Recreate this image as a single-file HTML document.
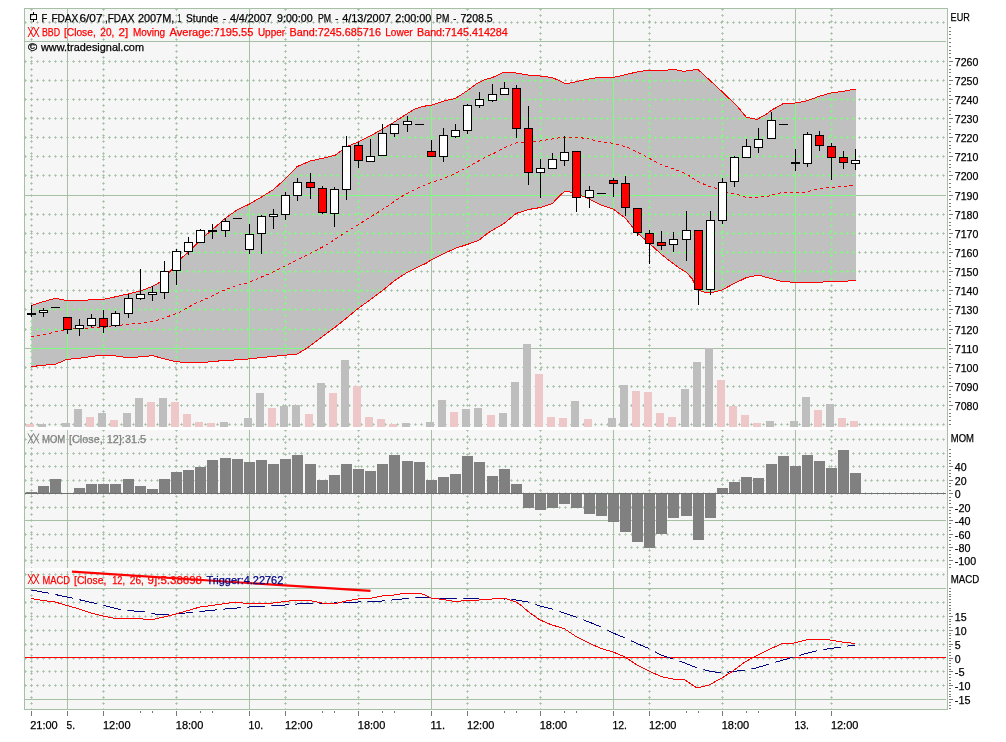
<!DOCTYPE html>
<html><head><meta charset="utf-8"><title>FDAX chart</title>
<style>html,body{margin:0;padding:0;background:#fff}svg{display:block}text{font-family:"Liberation Sans",sans-serif;font-size:11px}</style>
</head><body>
<svg width="1006" height="742" viewBox="0 0 1006 742">
<defs>
<clipPath id="bandclip"><polygon points="31.4,305.4 40.0,302.6 55.0,298.4 61.0,299.3 66.8,300.6 83.5,300.4 91.0,299.8 103.6,299.3 113.6,297.2 127.0,294.2 140.4,290.9 152.0,286.7 158.7,283.0 164.0,278.0 167.0,274.0 170.0,271.5 176.0,265.0 182.0,257.5 188.0,252.5 200.0,240.3 212.0,230.0 225.0,218.5 237.0,210.0 249.0,204.3 261.0,197.3 273.0,189.8 285.0,179.3 297.0,166.7 310.0,161.0 322.0,158.4 330.0,156.6 335.0,155.3 341.7,150.3 348.4,146.1 358.4,141.9 370.1,136.1 381.8,129.4 391.9,123.5 403.6,116.0 413.6,109.6 422.0,106.5 432.0,105.1 443.7,101.0 455.4,98.4 467.1,90.9 477.1,83.4 483.8,80.0 492.2,77.6 498.0,75.0 503.0,72.5 510.0,72.0 516.0,73.0 528.0,75.0 540.0,76.0 552.0,77.5 558.0,80.0 564.0,83.0 570.0,83.0 576.0,81.7 589.0,79.0 601.0,77.1 615.0,77.1 626.7,74.3 640.1,71.3 650.2,70.1 666.9,70.1 673.6,69.3 683.6,71.3 690.3,70.4 697.8,69.3 708.7,79.3 722.0,91.6 728.0,97.3 734.0,103.2 737.1,106.0 746.3,117.2 752.0,118.6 757.1,119.4 764.0,115.4 767.2,113.6 771.0,110.5 783.0,103.7 795.0,103.0 807.0,100.9 819.0,96.4 831.0,93.0 843.0,91.3 856.0,89.0 856.0,280.2 849.5,280.4 848.5,281.0 829.0,281.8 814.0,282.3 804.0,283.0 795.3,282.3 781.5,281.5 766.5,277.3 758.0,275.0 746.0,277.8 734.0,283.6 722.0,290.0 716.0,291.6 710.0,293.0 704.0,292.0 698.0,290.0 692.0,278.6 686.0,272.0 680.0,268.5 673.0,263.5 661.0,254.0 649.5,243.5 637.0,232.6 630.0,224.0 625.0,217.7 613.0,209.0 601.0,205.0 589.0,198.8 576.0,193.4 570.0,192.0 564.0,191.8 558.0,197.6 552.0,203.8 540.0,207.6 528.0,209.6 516.0,213.5 504.0,223.5 498.0,227.0 492.0,230.5 487.1,233.6 478.8,240.3 467.1,244.5 455.4,248.3 443.7,253.7 431.0,260.0 425.3,263.7 419.0,266.5 407.0,272.5 394.0,281.0 382.0,291.0 370.0,300.0 358.0,308.5 348.0,316.9 335.5,326.9 322.1,336.9 308.7,347.0 302.0,351.1 297.0,354.0 280.3,355.7 258.6,357.8 243.5,359.5 221.8,360.7 205.0,362.3 185.0,362.5 175.5,361.6 158.7,357.3 152.0,355.6 142.0,356.9 125.3,357.4 118.6,356.1 103.6,355.6 96.9,355.8 78.5,358.3 66.8,359.4 56.0,364.0 40.0,365.6 31.4,366.6"/></clipPath>
<clipPath id="dashclip"><rect x="31.3" y="571" width="17.6" height="138"/><rect x="55.3" y="571" width="17.6" height="138"/><rect x="79.3" y="571" width="17.6" height="138"/><rect x="103.3" y="571" width="17.6" height="138"/><rect x="127.3" y="571" width="17.6" height="138"/><rect x="151.3" y="571" width="17.6" height="138"/><rect x="175.3" y="571" width="17.6" height="138"/><rect x="199.3" y="571" width="17.6" height="138"/><rect x="223.3" y="571" width="17.6" height="138"/><rect x="247.3" y="571" width="17.6" height="138"/><rect x="271.3" y="571" width="17.6" height="138"/><rect x="295.3" y="571" width="17.6" height="138"/><rect x="319.3" y="571" width="17.6" height="138"/><rect x="343.3" y="571" width="17.6" height="138"/><rect x="367.3" y="571" width="17.6" height="138"/><rect x="391.3" y="571" width="17.6" height="138"/><rect x="415.3" y="571" width="17.6" height="138"/><rect x="439.3" y="571" width="17.6" height="138"/><rect x="463.3" y="571" width="17.6" height="138"/><rect x="487.3" y="571" width="17.6" height="138"/><rect x="511.3" y="571" width="17.6" height="138"/><rect x="535.3" y="571" width="17.6" height="138"/><rect x="559.3" y="571" width="17.6" height="138"/><rect x="583.3" y="571" width="17.6" height="138"/><rect x="607.3" y="571" width="17.6" height="138"/><rect x="631.3" y="571" width="17.6" height="138"/><rect x="655.3" y="571" width="17.6" height="138"/><rect x="679.3" y="571" width="17.6" height="138"/><rect x="703.3" y="571" width="17.6" height="138"/><rect x="727.3" y="571" width="17.6" height="138"/><rect x="751.3" y="571" width="17.6" height="138"/><rect x="775.3" y="571" width="17.6" height="138"/><rect x="799.3" y="571" width="17.6" height="138"/><rect x="823.3" y="571" width="17.6" height="138"/><rect x="847.3" y="571" width="17.6" height="138"/><rect x="871.3" y="571" width="17.6" height="138"/></clipPath>
<clipPath id="plotclip"><rect x="25" y="9" width="922" height="700"/></clipPath>
</defs>
<rect x="24" y="8" width="924" height="701" fill="#f6f6f6"/>
<g shape-rendering="crispEdges" clip-path="url(#plotclip)">
<line x1="25" y1="41.5" x2="946" y2="41.5" stroke="#a6c0a6"/>
<line x1="25" y1="195.5" x2="946" y2="195.5" stroke="#a6c0a6"/>
<line x1="25" y1="348.5" x2="946" y2="348.5" stroke="#a6c0a6"/>
<line x1="25" y1="520.5" x2="946" y2="520.5" stroke="#a6c0a6"/>
<line x1="25" y1="588.5" x2="946" y2="588.5" stroke="#a6c0a6"/>
<line x1="25" y1="699.5" x2="946" y2="699.5" stroke="#a6c0a6"/>
<line x1="67.5" y1="9" x2="67.5" y2="427" stroke="#a6c0a6"/>
<line x1="67.5" y1="430" x2="67.5" y2="568" stroke="#a6c0a6"/>
<line x1="67.5" y1="571" x2="67.5" y2="709" stroke="#a6c0a6"/>
<line x1="249.5" y1="9" x2="249.5" y2="427" stroke="#a6c0a6"/>
<line x1="249.5" y1="430" x2="249.5" y2="568" stroke="#a6c0a6"/>
<line x1="249.5" y1="571" x2="249.5" y2="709" stroke="#a6c0a6"/>
<line x1="431.5" y1="9" x2="431.5" y2="427" stroke="#a6c0a6"/>
<line x1="431.5" y1="430" x2="431.5" y2="568" stroke="#a6c0a6"/>
<line x1="431.5" y1="571" x2="431.5" y2="709" stroke="#a6c0a6"/>
<line x1="613.5" y1="9" x2="613.5" y2="427" stroke="#a6c0a6"/>
<line x1="613.5" y1="430" x2="613.5" y2="568" stroke="#a6c0a6"/>
<line x1="613.5" y1="571" x2="613.5" y2="709" stroke="#a6c0a6"/>
<line x1="795.5" y1="9" x2="795.5" y2="427" stroke="#a6c0a6"/>
<line x1="795.5" y1="430" x2="795.5" y2="568" stroke="#a6c0a6"/>
<line x1="795.5" y1="571" x2="795.5" y2="709" stroke="#a6c0a6"/>
<line x1="25" y1="22.5" x2="946" y2="22.5" stroke="#a6c0a6" stroke-dasharray="1 5"/>
<line x1="24" y1="22.5" x2="946" y2="22.5" stroke="#a6c0a6" stroke-dasharray="3 3" opacity="0.72"/>
<line x1="25" y1="21.5" x2="946" y2="21.5" stroke="#a6c0a6" stroke-dasharray="1 5" opacity="0.72"/>
<line x1="25" y1="23.5" x2="946" y2="23.5" stroke="#a6c0a6" stroke-dasharray="1 5" opacity="0.72"/>
<line x1="25" y1="61.5" x2="946" y2="61.5" stroke="#a6c0a6" stroke-dasharray="1 5"/>
<line x1="24" y1="61.5" x2="946" y2="61.5" stroke="#a6c0a6" stroke-dasharray="3 3" opacity="0.72"/>
<line x1="25" y1="60.5" x2="946" y2="60.5" stroke="#a6c0a6" stroke-dasharray="1 5" opacity="0.72"/>
<line x1="25" y1="62.5" x2="946" y2="62.5" stroke="#a6c0a6" stroke-dasharray="1 5" opacity="0.72"/>
<line x1="25" y1="80.5" x2="946" y2="80.5" stroke="#a6c0a6" stroke-dasharray="1 5"/>
<line x1="24" y1="80.5" x2="946" y2="80.5" stroke="#a6c0a6" stroke-dasharray="3 3" opacity="0.72"/>
<line x1="25" y1="79.5" x2="946" y2="79.5" stroke="#a6c0a6" stroke-dasharray="1 5" opacity="0.72"/>
<line x1="25" y1="81.5" x2="946" y2="81.5" stroke="#a6c0a6" stroke-dasharray="1 5" opacity="0.72"/>
<line x1="25" y1="99.5" x2="946" y2="99.5" stroke="#a6c0a6" stroke-dasharray="1 5"/>
<line x1="24" y1="99.5" x2="946" y2="99.5" stroke="#a6c0a6" stroke-dasharray="3 3" opacity="0.72"/>
<line x1="25" y1="98.5" x2="946" y2="98.5" stroke="#a6c0a6" stroke-dasharray="1 5" opacity="0.72"/>
<line x1="25" y1="100.5" x2="946" y2="100.5" stroke="#a6c0a6" stroke-dasharray="1 5" opacity="0.72"/>
<line x1="25" y1="118.5" x2="946" y2="118.5" stroke="#a6c0a6" stroke-dasharray="1 5"/>
<line x1="24" y1="118.5" x2="946" y2="118.5" stroke="#a6c0a6" stroke-dasharray="3 3" opacity="0.72"/>
<line x1="25" y1="117.5" x2="946" y2="117.5" stroke="#a6c0a6" stroke-dasharray="1 5" opacity="0.72"/>
<line x1="25" y1="119.5" x2="946" y2="119.5" stroke="#a6c0a6" stroke-dasharray="1 5" opacity="0.72"/>
<line x1="25" y1="137.5" x2="946" y2="137.5" stroke="#a6c0a6" stroke-dasharray="1 5"/>
<line x1="24" y1="137.5" x2="946" y2="137.5" stroke="#a6c0a6" stroke-dasharray="3 3" opacity="0.72"/>
<line x1="25" y1="136.5" x2="946" y2="136.5" stroke="#a6c0a6" stroke-dasharray="1 5" opacity="0.72"/>
<line x1="25" y1="138.5" x2="946" y2="138.5" stroke="#a6c0a6" stroke-dasharray="1 5" opacity="0.72"/>
<line x1="25" y1="156.5" x2="946" y2="156.5" stroke="#a6c0a6" stroke-dasharray="1 5"/>
<line x1="24" y1="156.5" x2="946" y2="156.5" stroke="#a6c0a6" stroke-dasharray="3 3" opacity="0.72"/>
<line x1="25" y1="155.5" x2="946" y2="155.5" stroke="#a6c0a6" stroke-dasharray="1 5" opacity="0.72"/>
<line x1="25" y1="157.5" x2="946" y2="157.5" stroke="#a6c0a6" stroke-dasharray="1 5" opacity="0.72"/>
<line x1="25" y1="175.5" x2="946" y2="175.5" stroke="#a6c0a6" stroke-dasharray="1 5"/>
<line x1="24" y1="175.5" x2="946" y2="175.5" stroke="#a6c0a6" stroke-dasharray="3 3" opacity="0.72"/>
<line x1="25" y1="174.5" x2="946" y2="174.5" stroke="#a6c0a6" stroke-dasharray="1 5" opacity="0.72"/>
<line x1="25" y1="176.5" x2="946" y2="176.5" stroke="#a6c0a6" stroke-dasharray="1 5" opacity="0.72"/>
<line x1="25" y1="214.5" x2="946" y2="214.5" stroke="#a6c0a6" stroke-dasharray="1 5"/>
<line x1="24" y1="214.5" x2="946" y2="214.5" stroke="#a6c0a6" stroke-dasharray="3 3" opacity="0.72"/>
<line x1="25" y1="213.5" x2="946" y2="213.5" stroke="#a6c0a6" stroke-dasharray="1 5" opacity="0.72"/>
<line x1="25" y1="215.5" x2="946" y2="215.5" stroke="#a6c0a6" stroke-dasharray="1 5" opacity="0.72"/>
<line x1="25" y1="233.5" x2="946" y2="233.5" stroke="#a6c0a6" stroke-dasharray="1 5"/>
<line x1="24" y1="233.5" x2="946" y2="233.5" stroke="#a6c0a6" stroke-dasharray="3 3" opacity="0.72"/>
<line x1="25" y1="232.5" x2="946" y2="232.5" stroke="#a6c0a6" stroke-dasharray="1 5" opacity="0.72"/>
<line x1="25" y1="234.5" x2="946" y2="234.5" stroke="#a6c0a6" stroke-dasharray="1 5" opacity="0.72"/>
<line x1="25" y1="252.5" x2="946" y2="252.5" stroke="#a6c0a6" stroke-dasharray="1 5"/>
<line x1="24" y1="252.5" x2="946" y2="252.5" stroke="#a6c0a6" stroke-dasharray="3 3" opacity="0.72"/>
<line x1="25" y1="251.5" x2="946" y2="251.5" stroke="#a6c0a6" stroke-dasharray="1 5" opacity="0.72"/>
<line x1="25" y1="253.5" x2="946" y2="253.5" stroke="#a6c0a6" stroke-dasharray="1 5" opacity="0.72"/>
<line x1="25" y1="271.5" x2="946" y2="271.5" stroke="#a6c0a6" stroke-dasharray="1 5"/>
<line x1="24" y1="271.5" x2="946" y2="271.5" stroke="#a6c0a6" stroke-dasharray="3 3" opacity="0.72"/>
<line x1="25" y1="270.5" x2="946" y2="270.5" stroke="#a6c0a6" stroke-dasharray="1 5" opacity="0.72"/>
<line x1="25" y1="272.5" x2="946" y2="272.5" stroke="#a6c0a6" stroke-dasharray="1 5" opacity="0.72"/>
<line x1="25" y1="290.5" x2="946" y2="290.5" stroke="#a6c0a6" stroke-dasharray="1 5"/>
<line x1="24" y1="290.5" x2="946" y2="290.5" stroke="#a6c0a6" stroke-dasharray="3 3" opacity="0.72"/>
<line x1="25" y1="289.5" x2="946" y2="289.5" stroke="#a6c0a6" stroke-dasharray="1 5" opacity="0.72"/>
<line x1="25" y1="291.5" x2="946" y2="291.5" stroke="#a6c0a6" stroke-dasharray="1 5" opacity="0.72"/>
<line x1="25" y1="309.5" x2="946" y2="309.5" stroke="#a6c0a6" stroke-dasharray="1 5"/>
<line x1="24" y1="309.5" x2="946" y2="309.5" stroke="#a6c0a6" stroke-dasharray="3 3" opacity="0.72"/>
<line x1="25" y1="308.5" x2="946" y2="308.5" stroke="#a6c0a6" stroke-dasharray="1 5" opacity="0.72"/>
<line x1="25" y1="310.5" x2="946" y2="310.5" stroke="#a6c0a6" stroke-dasharray="1 5" opacity="0.72"/>
<line x1="25" y1="329.5" x2="946" y2="329.5" stroke="#a6c0a6" stroke-dasharray="1 5"/>
<line x1="24" y1="329.5" x2="946" y2="329.5" stroke="#a6c0a6" stroke-dasharray="3 3" opacity="0.72"/>
<line x1="25" y1="328.5" x2="946" y2="328.5" stroke="#a6c0a6" stroke-dasharray="1 5" opacity="0.72"/>
<line x1="25" y1="330.5" x2="946" y2="330.5" stroke="#a6c0a6" stroke-dasharray="1 5" opacity="0.72"/>
<line x1="25" y1="367.5" x2="946" y2="367.5" stroke="#a6c0a6" stroke-dasharray="1 5"/>
<line x1="24" y1="367.5" x2="946" y2="367.5" stroke="#a6c0a6" stroke-dasharray="3 3" opacity="0.72"/>
<line x1="25" y1="366.5" x2="946" y2="366.5" stroke="#a6c0a6" stroke-dasharray="1 5" opacity="0.72"/>
<line x1="25" y1="368.5" x2="946" y2="368.5" stroke="#a6c0a6" stroke-dasharray="1 5" opacity="0.72"/>
<line x1="25" y1="386.5" x2="946" y2="386.5" stroke="#a6c0a6" stroke-dasharray="1 5"/>
<line x1="24" y1="386.5" x2="946" y2="386.5" stroke="#a6c0a6" stroke-dasharray="3 3" opacity="0.72"/>
<line x1="25" y1="385.5" x2="946" y2="385.5" stroke="#a6c0a6" stroke-dasharray="1 5" opacity="0.72"/>
<line x1="25" y1="387.5" x2="946" y2="387.5" stroke="#a6c0a6" stroke-dasharray="1 5" opacity="0.72"/>
<line x1="25" y1="405.5" x2="946" y2="405.5" stroke="#a6c0a6" stroke-dasharray="1 5"/>
<line x1="24" y1="405.5" x2="946" y2="405.5" stroke="#a6c0a6" stroke-dasharray="3 3" opacity="0.72"/>
<line x1="25" y1="404.5" x2="946" y2="404.5" stroke="#a6c0a6" stroke-dasharray="1 5" opacity="0.72"/>
<line x1="25" y1="406.5" x2="946" y2="406.5" stroke="#a6c0a6" stroke-dasharray="1 5" opacity="0.72"/>
<line x1="25" y1="424.5" x2="946" y2="424.5" stroke="#a6c0a6" stroke-dasharray="1 5"/>
<line x1="24" y1="424.5" x2="946" y2="424.5" stroke="#a6c0a6" stroke-dasharray="3 3" opacity="0.72"/>
<line x1="25" y1="423.5" x2="946" y2="423.5" stroke="#a6c0a6" stroke-dasharray="1 5" opacity="0.72"/>
<line x1="25" y1="425.5" x2="946" y2="425.5" stroke="#a6c0a6" stroke-dasharray="1 5" opacity="0.72"/>
<line x1="25" y1="439.5" x2="946" y2="439.5" stroke="#a6c0a6" stroke-dasharray="1 5"/>
<line x1="24" y1="439.5" x2="946" y2="439.5" stroke="#a6c0a6" stroke-dasharray="3 3" opacity="0.72"/>
<line x1="25" y1="438.5" x2="946" y2="438.5" stroke="#a6c0a6" stroke-dasharray="1 5" opacity="0.72"/>
<line x1="25" y1="440.5" x2="946" y2="440.5" stroke="#a6c0a6" stroke-dasharray="1 5" opacity="0.72"/>
<line x1="25" y1="453.5" x2="946" y2="453.5" stroke="#a6c0a6" stroke-dasharray="1 5"/>
<line x1="24" y1="453.5" x2="946" y2="453.5" stroke="#a6c0a6" stroke-dasharray="3 3" opacity="0.72"/>
<line x1="25" y1="452.5" x2="946" y2="452.5" stroke="#a6c0a6" stroke-dasharray="1 5" opacity="0.72"/>
<line x1="25" y1="454.5" x2="946" y2="454.5" stroke="#a6c0a6" stroke-dasharray="1 5" opacity="0.72"/>
<line x1="25" y1="466.5" x2="946" y2="466.5" stroke="#a6c0a6" stroke-dasharray="1 5"/>
<line x1="24" y1="466.5" x2="946" y2="466.5" stroke="#a6c0a6" stroke-dasharray="3 3" opacity="0.72"/>
<line x1="25" y1="465.5" x2="946" y2="465.5" stroke="#a6c0a6" stroke-dasharray="1 5" opacity="0.72"/>
<line x1="25" y1="467.5" x2="946" y2="467.5" stroke="#a6c0a6" stroke-dasharray="1 5" opacity="0.72"/>
<line x1="25" y1="480.5" x2="946" y2="480.5" stroke="#a6c0a6" stroke-dasharray="1 5"/>
<line x1="24" y1="480.5" x2="946" y2="480.5" stroke="#a6c0a6" stroke-dasharray="3 3" opacity="0.72"/>
<line x1="25" y1="479.5" x2="946" y2="479.5" stroke="#a6c0a6" stroke-dasharray="1 5" opacity="0.72"/>
<line x1="25" y1="481.5" x2="946" y2="481.5" stroke="#a6c0a6" stroke-dasharray="1 5" opacity="0.72"/>
<line x1="25" y1="493.5" x2="946" y2="493.5" stroke="#a6c0a6" stroke-dasharray="1 5"/>
<line x1="24" y1="493.5" x2="946" y2="493.5" stroke="#a6c0a6" stroke-dasharray="3 3" opacity="0.72"/>
<line x1="25" y1="492.5" x2="946" y2="492.5" stroke="#a6c0a6" stroke-dasharray="1 5" opacity="0.72"/>
<line x1="25" y1="494.5" x2="946" y2="494.5" stroke="#a6c0a6" stroke-dasharray="1 5" opacity="0.72"/>
<line x1="25" y1="507.5" x2="946" y2="507.5" stroke="#a6c0a6" stroke-dasharray="1 5"/>
<line x1="24" y1="507.5" x2="946" y2="507.5" stroke="#a6c0a6" stroke-dasharray="3 3" opacity="0.72"/>
<line x1="25" y1="506.5" x2="946" y2="506.5" stroke="#a6c0a6" stroke-dasharray="1 5" opacity="0.72"/>
<line x1="25" y1="508.5" x2="946" y2="508.5" stroke="#a6c0a6" stroke-dasharray="1 5" opacity="0.72"/>
<line x1="25" y1="534.5" x2="946" y2="534.5" stroke="#a6c0a6" stroke-dasharray="1 5"/>
<line x1="24" y1="534.5" x2="946" y2="534.5" stroke="#a6c0a6" stroke-dasharray="3 3" opacity="0.72"/>
<line x1="25" y1="533.5" x2="946" y2="533.5" stroke="#a6c0a6" stroke-dasharray="1 5" opacity="0.72"/>
<line x1="25" y1="535.5" x2="946" y2="535.5" stroke="#a6c0a6" stroke-dasharray="1 5" opacity="0.72"/>
<line x1="25" y1="547.5" x2="946" y2="547.5" stroke="#a6c0a6" stroke-dasharray="1 5"/>
<line x1="24" y1="547.5" x2="946" y2="547.5" stroke="#a6c0a6" stroke-dasharray="3 3" opacity="0.72"/>
<line x1="25" y1="546.5" x2="946" y2="546.5" stroke="#a6c0a6" stroke-dasharray="1 5" opacity="0.72"/>
<line x1="25" y1="548.5" x2="946" y2="548.5" stroke="#a6c0a6" stroke-dasharray="1 5" opacity="0.72"/>
<line x1="25" y1="560.5" x2="946" y2="560.5" stroke="#a6c0a6" stroke-dasharray="1 5"/>
<line x1="24" y1="560.5" x2="946" y2="560.5" stroke="#a6c0a6" stroke-dasharray="3 3" opacity="0.72"/>
<line x1="25" y1="559.5" x2="946" y2="559.5" stroke="#a6c0a6" stroke-dasharray="1 5" opacity="0.72"/>
<line x1="25" y1="561.5" x2="946" y2="561.5" stroke="#a6c0a6" stroke-dasharray="1 5" opacity="0.72"/>
<line x1="25" y1="574.5" x2="946" y2="574.5" stroke="#a6c0a6" stroke-dasharray="1 5"/>
<line x1="24" y1="574.5" x2="946" y2="574.5" stroke="#a6c0a6" stroke-dasharray="3 3" opacity="0.72"/>
<line x1="25" y1="573.5" x2="946" y2="573.5" stroke="#a6c0a6" stroke-dasharray="1 5" opacity="0.72"/>
<line x1="25" y1="575.5" x2="946" y2="575.5" stroke="#a6c0a6" stroke-dasharray="1 5" opacity="0.72"/>
<line x1="25" y1="602.5" x2="946" y2="602.5" stroke="#a6c0a6" stroke-dasharray="1 5"/>
<line x1="24" y1="602.5" x2="946" y2="602.5" stroke="#a6c0a6" stroke-dasharray="3 3" opacity="0.72"/>
<line x1="25" y1="601.5" x2="946" y2="601.5" stroke="#a6c0a6" stroke-dasharray="1 5" opacity="0.72"/>
<line x1="25" y1="603.5" x2="946" y2="603.5" stroke="#a6c0a6" stroke-dasharray="1 5" opacity="0.72"/>
<line x1="25" y1="616.5" x2="946" y2="616.5" stroke="#a6c0a6" stroke-dasharray="1 5"/>
<line x1="24" y1="616.5" x2="946" y2="616.5" stroke="#a6c0a6" stroke-dasharray="3 3" opacity="0.72"/>
<line x1="25" y1="615.5" x2="946" y2="615.5" stroke="#a6c0a6" stroke-dasharray="1 5" opacity="0.72"/>
<line x1="25" y1="617.5" x2="946" y2="617.5" stroke="#a6c0a6" stroke-dasharray="1 5" opacity="0.72"/>
<line x1="25" y1="630.5" x2="946" y2="630.5" stroke="#a6c0a6" stroke-dasharray="1 5"/>
<line x1="24" y1="630.5" x2="946" y2="630.5" stroke="#a6c0a6" stroke-dasharray="3 3" opacity="0.72"/>
<line x1="25" y1="629.5" x2="946" y2="629.5" stroke="#a6c0a6" stroke-dasharray="1 5" opacity="0.72"/>
<line x1="25" y1="631.5" x2="946" y2="631.5" stroke="#a6c0a6" stroke-dasharray="1 5" opacity="0.72"/>
<line x1="25" y1="644.5" x2="946" y2="644.5" stroke="#a6c0a6" stroke-dasharray="1 5"/>
<line x1="24" y1="644.5" x2="946" y2="644.5" stroke="#a6c0a6" stroke-dasharray="3 3" opacity="0.72"/>
<line x1="25" y1="643.5" x2="946" y2="643.5" stroke="#a6c0a6" stroke-dasharray="1 5" opacity="0.72"/>
<line x1="25" y1="645.5" x2="946" y2="645.5" stroke="#a6c0a6" stroke-dasharray="1 5" opacity="0.72"/>
<line x1="25" y1="658.5" x2="946" y2="658.5" stroke="#a6c0a6" stroke-dasharray="1 5"/>
<line x1="24" y1="658.5" x2="946" y2="658.5" stroke="#a6c0a6" stroke-dasharray="3 3" opacity="0.72"/>
<line x1="25" y1="657.5" x2="946" y2="657.5" stroke="#a6c0a6" stroke-dasharray="1 5" opacity="0.72"/>
<line x1="25" y1="659.5" x2="946" y2="659.5" stroke="#a6c0a6" stroke-dasharray="1 5" opacity="0.72"/>
<line x1="25" y1="671.5" x2="946" y2="671.5" stroke="#a6c0a6" stroke-dasharray="1 5"/>
<line x1="24" y1="671.5" x2="946" y2="671.5" stroke="#a6c0a6" stroke-dasharray="3 3" opacity="0.72"/>
<line x1="25" y1="670.5" x2="946" y2="670.5" stroke="#a6c0a6" stroke-dasharray="1 5" opacity="0.72"/>
<line x1="25" y1="672.5" x2="946" y2="672.5" stroke="#a6c0a6" stroke-dasharray="1 5" opacity="0.72"/>
<line x1="25" y1="685.5" x2="946" y2="685.5" stroke="#a6c0a6" stroke-dasharray="1 5"/>
<line x1="24" y1="685.5" x2="946" y2="685.5" stroke="#a6c0a6" stroke-dasharray="3 3" opacity="0.72"/>
<line x1="25" y1="684.5" x2="946" y2="684.5" stroke="#a6c0a6" stroke-dasharray="1 5" opacity="0.72"/>
<line x1="25" y1="686.5" x2="946" y2="686.5" stroke="#a6c0a6" stroke-dasharray="1 5" opacity="0.72"/>
<line x1="31.5" y1="9" x2="31.5" y2="427" stroke="#a6c0a6" stroke-dasharray="1 5"/>
<line x1="31.5" y1="8" x2="31.5" y2="427" stroke="#a6c0a6" stroke-dasharray="3 3" opacity="0.72"/>
<line x1="30.5" y1="9" x2="30.5" y2="427" stroke="#a6c0a6" stroke-dasharray="1 5" opacity="0.72"/>
<line x1="32.5" y1="9" x2="32.5" y2="427" stroke="#a6c0a6" stroke-dasharray="1 5" opacity="0.72"/>
<line x1="31.5" y1="430" x2="31.5" y2="568" stroke="#a6c0a6" stroke-dasharray="1 5"/>
<line x1="31.5" y1="429" x2="31.5" y2="568" stroke="#a6c0a6" stroke-dasharray="3 3" opacity="0.72"/>
<line x1="30.5" y1="430" x2="30.5" y2="568" stroke="#a6c0a6" stroke-dasharray="1 5" opacity="0.72"/>
<line x1="32.5" y1="430" x2="32.5" y2="568" stroke="#a6c0a6" stroke-dasharray="1 5" opacity="0.72"/>
<line x1="31.5" y1="571" x2="31.5" y2="709" stroke="#a6c0a6" stroke-dasharray="1 5"/>
<line x1="31.5" y1="570" x2="31.5" y2="709" stroke="#a6c0a6" stroke-dasharray="3 3" opacity="0.72"/>
<line x1="30.5" y1="571" x2="30.5" y2="709" stroke="#a6c0a6" stroke-dasharray="1 5" opacity="0.72"/>
<line x1="32.5" y1="571" x2="32.5" y2="709" stroke="#a6c0a6" stroke-dasharray="1 5" opacity="0.72"/>
<line x1="103.5" y1="9" x2="103.5" y2="427" stroke="#a6c0a6" stroke-dasharray="1 5"/>
<line x1="103.5" y1="8" x2="103.5" y2="427" stroke="#a6c0a6" stroke-dasharray="3 3" opacity="0.72"/>
<line x1="102.5" y1="9" x2="102.5" y2="427" stroke="#a6c0a6" stroke-dasharray="1 5" opacity="0.72"/>
<line x1="104.5" y1="9" x2="104.5" y2="427" stroke="#a6c0a6" stroke-dasharray="1 5" opacity="0.72"/>
<line x1="103.5" y1="430" x2="103.5" y2="568" stroke="#a6c0a6" stroke-dasharray="1 5"/>
<line x1="103.5" y1="429" x2="103.5" y2="568" stroke="#a6c0a6" stroke-dasharray="3 3" opacity="0.72"/>
<line x1="102.5" y1="430" x2="102.5" y2="568" stroke="#a6c0a6" stroke-dasharray="1 5" opacity="0.72"/>
<line x1="104.5" y1="430" x2="104.5" y2="568" stroke="#a6c0a6" stroke-dasharray="1 5" opacity="0.72"/>
<line x1="103.5" y1="571" x2="103.5" y2="709" stroke="#a6c0a6" stroke-dasharray="1 5"/>
<line x1="103.5" y1="570" x2="103.5" y2="709" stroke="#a6c0a6" stroke-dasharray="3 3" opacity="0.72"/>
<line x1="102.5" y1="571" x2="102.5" y2="709" stroke="#a6c0a6" stroke-dasharray="1 5" opacity="0.72"/>
<line x1="104.5" y1="571" x2="104.5" y2="709" stroke="#a6c0a6" stroke-dasharray="1 5" opacity="0.72"/>
<line x1="176.5" y1="9" x2="176.5" y2="427" stroke="#a6c0a6" stroke-dasharray="1 5"/>
<line x1="176.5" y1="8" x2="176.5" y2="427" stroke="#a6c0a6" stroke-dasharray="3 3" opacity="0.72"/>
<line x1="175.5" y1="9" x2="175.5" y2="427" stroke="#a6c0a6" stroke-dasharray="1 5" opacity="0.72"/>
<line x1="177.5" y1="9" x2="177.5" y2="427" stroke="#a6c0a6" stroke-dasharray="1 5" opacity="0.72"/>
<line x1="176.5" y1="430" x2="176.5" y2="568" stroke="#a6c0a6" stroke-dasharray="1 5"/>
<line x1="176.5" y1="429" x2="176.5" y2="568" stroke="#a6c0a6" stroke-dasharray="3 3" opacity="0.72"/>
<line x1="175.5" y1="430" x2="175.5" y2="568" stroke="#a6c0a6" stroke-dasharray="1 5" opacity="0.72"/>
<line x1="177.5" y1="430" x2="177.5" y2="568" stroke="#a6c0a6" stroke-dasharray="1 5" opacity="0.72"/>
<line x1="176.5" y1="571" x2="176.5" y2="709" stroke="#a6c0a6" stroke-dasharray="1 5"/>
<line x1="176.5" y1="570" x2="176.5" y2="709" stroke="#a6c0a6" stroke-dasharray="3 3" opacity="0.72"/>
<line x1="175.5" y1="571" x2="175.5" y2="709" stroke="#a6c0a6" stroke-dasharray="1 5" opacity="0.72"/>
<line x1="177.5" y1="571" x2="177.5" y2="709" stroke="#a6c0a6" stroke-dasharray="1 5" opacity="0.72"/>
<line x1="285.5" y1="9" x2="285.5" y2="427" stroke="#a6c0a6" stroke-dasharray="1 5"/>
<line x1="285.5" y1="8" x2="285.5" y2="427" stroke="#a6c0a6" stroke-dasharray="3 3" opacity="0.72"/>
<line x1="284.5" y1="9" x2="284.5" y2="427" stroke="#a6c0a6" stroke-dasharray="1 5" opacity="0.72"/>
<line x1="286.5" y1="9" x2="286.5" y2="427" stroke="#a6c0a6" stroke-dasharray="1 5" opacity="0.72"/>
<line x1="285.5" y1="430" x2="285.5" y2="568" stroke="#a6c0a6" stroke-dasharray="1 5"/>
<line x1="285.5" y1="429" x2="285.5" y2="568" stroke="#a6c0a6" stroke-dasharray="3 3" opacity="0.72"/>
<line x1="284.5" y1="430" x2="284.5" y2="568" stroke="#a6c0a6" stroke-dasharray="1 5" opacity="0.72"/>
<line x1="286.5" y1="430" x2="286.5" y2="568" stroke="#a6c0a6" stroke-dasharray="1 5" opacity="0.72"/>
<line x1="285.5" y1="571" x2="285.5" y2="709" stroke="#a6c0a6" stroke-dasharray="1 5"/>
<line x1="285.5" y1="570" x2="285.5" y2="709" stroke="#a6c0a6" stroke-dasharray="3 3" opacity="0.72"/>
<line x1="284.5" y1="571" x2="284.5" y2="709" stroke="#a6c0a6" stroke-dasharray="1 5" opacity="0.72"/>
<line x1="286.5" y1="571" x2="286.5" y2="709" stroke="#a6c0a6" stroke-dasharray="1 5" opacity="0.72"/>
<line x1="358.5" y1="9" x2="358.5" y2="427" stroke="#a6c0a6" stroke-dasharray="1 5"/>
<line x1="358.5" y1="8" x2="358.5" y2="427" stroke="#a6c0a6" stroke-dasharray="3 3" opacity="0.72"/>
<line x1="357.5" y1="9" x2="357.5" y2="427" stroke="#a6c0a6" stroke-dasharray="1 5" opacity="0.72"/>
<line x1="359.5" y1="9" x2="359.5" y2="427" stroke="#a6c0a6" stroke-dasharray="1 5" opacity="0.72"/>
<line x1="358.5" y1="430" x2="358.5" y2="568" stroke="#a6c0a6" stroke-dasharray="1 5"/>
<line x1="358.5" y1="429" x2="358.5" y2="568" stroke="#a6c0a6" stroke-dasharray="3 3" opacity="0.72"/>
<line x1="357.5" y1="430" x2="357.5" y2="568" stroke="#a6c0a6" stroke-dasharray="1 5" opacity="0.72"/>
<line x1="359.5" y1="430" x2="359.5" y2="568" stroke="#a6c0a6" stroke-dasharray="1 5" opacity="0.72"/>
<line x1="358.5" y1="571" x2="358.5" y2="709" stroke="#a6c0a6" stroke-dasharray="1 5"/>
<line x1="358.5" y1="570" x2="358.5" y2="709" stroke="#a6c0a6" stroke-dasharray="3 3" opacity="0.72"/>
<line x1="357.5" y1="571" x2="357.5" y2="709" stroke="#a6c0a6" stroke-dasharray="1 5" opacity="0.72"/>
<line x1="359.5" y1="571" x2="359.5" y2="709" stroke="#a6c0a6" stroke-dasharray="1 5" opacity="0.72"/>
<line x1="467.5" y1="9" x2="467.5" y2="427" stroke="#a6c0a6" stroke-dasharray="1 5"/>
<line x1="467.5" y1="8" x2="467.5" y2="427" stroke="#a6c0a6" stroke-dasharray="3 3" opacity="0.72"/>
<line x1="466.5" y1="9" x2="466.5" y2="427" stroke="#a6c0a6" stroke-dasharray="1 5" opacity="0.72"/>
<line x1="468.5" y1="9" x2="468.5" y2="427" stroke="#a6c0a6" stroke-dasharray="1 5" opacity="0.72"/>
<line x1="467.5" y1="430" x2="467.5" y2="568" stroke="#a6c0a6" stroke-dasharray="1 5"/>
<line x1="467.5" y1="429" x2="467.5" y2="568" stroke="#a6c0a6" stroke-dasharray="3 3" opacity="0.72"/>
<line x1="466.5" y1="430" x2="466.5" y2="568" stroke="#a6c0a6" stroke-dasharray="1 5" opacity="0.72"/>
<line x1="468.5" y1="430" x2="468.5" y2="568" stroke="#a6c0a6" stroke-dasharray="1 5" opacity="0.72"/>
<line x1="467.5" y1="571" x2="467.5" y2="709" stroke="#a6c0a6" stroke-dasharray="1 5"/>
<line x1="467.5" y1="570" x2="467.5" y2="709" stroke="#a6c0a6" stroke-dasharray="3 3" opacity="0.72"/>
<line x1="466.5" y1="571" x2="466.5" y2="709" stroke="#a6c0a6" stroke-dasharray="1 5" opacity="0.72"/>
<line x1="468.5" y1="571" x2="468.5" y2="709" stroke="#a6c0a6" stroke-dasharray="1 5" opacity="0.72"/>
<line x1="540.5" y1="9" x2="540.5" y2="427" stroke="#a6c0a6" stroke-dasharray="1 5"/>
<line x1="540.5" y1="8" x2="540.5" y2="427" stroke="#a6c0a6" stroke-dasharray="3 3" opacity="0.72"/>
<line x1="539.5" y1="9" x2="539.5" y2="427" stroke="#a6c0a6" stroke-dasharray="1 5" opacity="0.72"/>
<line x1="541.5" y1="9" x2="541.5" y2="427" stroke="#a6c0a6" stroke-dasharray="1 5" opacity="0.72"/>
<line x1="540.5" y1="430" x2="540.5" y2="568" stroke="#a6c0a6" stroke-dasharray="1 5"/>
<line x1="540.5" y1="429" x2="540.5" y2="568" stroke="#a6c0a6" stroke-dasharray="3 3" opacity="0.72"/>
<line x1="539.5" y1="430" x2="539.5" y2="568" stroke="#a6c0a6" stroke-dasharray="1 5" opacity="0.72"/>
<line x1="541.5" y1="430" x2="541.5" y2="568" stroke="#a6c0a6" stroke-dasharray="1 5" opacity="0.72"/>
<line x1="540.5" y1="571" x2="540.5" y2="709" stroke="#a6c0a6" stroke-dasharray="1 5"/>
<line x1="540.5" y1="570" x2="540.5" y2="709" stroke="#a6c0a6" stroke-dasharray="3 3" opacity="0.72"/>
<line x1="539.5" y1="571" x2="539.5" y2="709" stroke="#a6c0a6" stroke-dasharray="1 5" opacity="0.72"/>
<line x1="541.5" y1="571" x2="541.5" y2="709" stroke="#a6c0a6" stroke-dasharray="1 5" opacity="0.72"/>
<line x1="649.5" y1="9" x2="649.5" y2="427" stroke="#a6c0a6" stroke-dasharray="1 5"/>
<line x1="649.5" y1="8" x2="649.5" y2="427" stroke="#a6c0a6" stroke-dasharray="3 3" opacity="0.72"/>
<line x1="648.5" y1="9" x2="648.5" y2="427" stroke="#a6c0a6" stroke-dasharray="1 5" opacity="0.72"/>
<line x1="650.5" y1="9" x2="650.5" y2="427" stroke="#a6c0a6" stroke-dasharray="1 5" opacity="0.72"/>
<line x1="649.5" y1="430" x2="649.5" y2="568" stroke="#a6c0a6" stroke-dasharray="1 5"/>
<line x1="649.5" y1="429" x2="649.5" y2="568" stroke="#a6c0a6" stroke-dasharray="3 3" opacity="0.72"/>
<line x1="648.5" y1="430" x2="648.5" y2="568" stroke="#a6c0a6" stroke-dasharray="1 5" opacity="0.72"/>
<line x1="650.5" y1="430" x2="650.5" y2="568" stroke="#a6c0a6" stroke-dasharray="1 5" opacity="0.72"/>
<line x1="649.5" y1="571" x2="649.5" y2="709" stroke="#a6c0a6" stroke-dasharray="1 5"/>
<line x1="649.5" y1="570" x2="649.5" y2="709" stroke="#a6c0a6" stroke-dasharray="3 3" opacity="0.72"/>
<line x1="648.5" y1="571" x2="648.5" y2="709" stroke="#a6c0a6" stroke-dasharray="1 5" opacity="0.72"/>
<line x1="650.5" y1="571" x2="650.5" y2="709" stroke="#a6c0a6" stroke-dasharray="1 5" opacity="0.72"/>
<line x1="722.5" y1="9" x2="722.5" y2="427" stroke="#a6c0a6" stroke-dasharray="1 5"/>
<line x1="722.5" y1="8" x2="722.5" y2="427" stroke="#a6c0a6" stroke-dasharray="3 3" opacity="0.72"/>
<line x1="721.5" y1="9" x2="721.5" y2="427" stroke="#a6c0a6" stroke-dasharray="1 5" opacity="0.72"/>
<line x1="723.5" y1="9" x2="723.5" y2="427" stroke="#a6c0a6" stroke-dasharray="1 5" opacity="0.72"/>
<line x1="722.5" y1="430" x2="722.5" y2="568" stroke="#a6c0a6" stroke-dasharray="1 5"/>
<line x1="722.5" y1="429" x2="722.5" y2="568" stroke="#a6c0a6" stroke-dasharray="3 3" opacity="0.72"/>
<line x1="721.5" y1="430" x2="721.5" y2="568" stroke="#a6c0a6" stroke-dasharray="1 5" opacity="0.72"/>
<line x1="723.5" y1="430" x2="723.5" y2="568" stroke="#a6c0a6" stroke-dasharray="1 5" opacity="0.72"/>
<line x1="722.5" y1="571" x2="722.5" y2="709" stroke="#a6c0a6" stroke-dasharray="1 5"/>
<line x1="722.5" y1="570" x2="722.5" y2="709" stroke="#a6c0a6" stroke-dasharray="3 3" opacity="0.72"/>
<line x1="721.5" y1="571" x2="721.5" y2="709" stroke="#a6c0a6" stroke-dasharray="1 5" opacity="0.72"/>
<line x1="723.5" y1="571" x2="723.5" y2="709" stroke="#a6c0a6" stroke-dasharray="1 5" opacity="0.72"/>
<line x1="831.5" y1="9" x2="831.5" y2="427" stroke="#a6c0a6" stroke-dasharray="1 5"/>
<line x1="831.5" y1="8" x2="831.5" y2="427" stroke="#a6c0a6" stroke-dasharray="3 3" opacity="0.72"/>
<line x1="830.5" y1="9" x2="830.5" y2="427" stroke="#a6c0a6" stroke-dasharray="1 5" opacity="0.72"/>
<line x1="832.5" y1="9" x2="832.5" y2="427" stroke="#a6c0a6" stroke-dasharray="1 5" opacity="0.72"/>
<line x1="831.5" y1="430" x2="831.5" y2="568" stroke="#a6c0a6" stroke-dasharray="1 5"/>
<line x1="831.5" y1="429" x2="831.5" y2="568" stroke="#a6c0a6" stroke-dasharray="3 3" opacity="0.72"/>
<line x1="830.5" y1="430" x2="830.5" y2="568" stroke="#a6c0a6" stroke-dasharray="1 5" opacity="0.72"/>
<line x1="832.5" y1="430" x2="832.5" y2="568" stroke="#a6c0a6" stroke-dasharray="1 5" opacity="0.72"/>
<line x1="831.5" y1="571" x2="831.5" y2="709" stroke="#a6c0a6" stroke-dasharray="1 5"/>
<line x1="831.5" y1="570" x2="831.5" y2="709" stroke="#a6c0a6" stroke-dasharray="3 3" opacity="0.72"/>
<line x1="830.5" y1="571" x2="830.5" y2="709" stroke="#a6c0a6" stroke-dasharray="1 5" opacity="0.72"/>
<line x1="832.5" y1="571" x2="832.5" y2="709" stroke="#a6c0a6" stroke-dasharray="1 5" opacity="0.72"/>
</g>
<g shape-rendering="crispEdges">
<rect x="26" y="424.0" width="8" height="3.0" fill="#eec8c8"/>
<rect x="38" y="424.0" width="8" height="3.0" fill="#bebebe"/>
<rect x="62" y="423.0" width="8" height="4.0" fill="#bebebe"/>
<rect x="74" y="409.0" width="8" height="18.0" fill="#bebebe"/>
<rect x="86" y="417.0" width="8" height="10.0" fill="#eec8c8"/>
<rect x="98" y="413.0" width="8" height="14.0" fill="#bebebe"/>
<rect x="110" y="420.0" width="8" height="7.0" fill="#eec8c8"/>
<rect x="123" y="413.0" width="8" height="14.0" fill="#bebebe"/>
<rect x="135" y="398.0" width="8" height="29.0" fill="#bebebe"/>
<rect x="147" y="402.0" width="8" height="25.0" fill="#eec8c8"/>
<rect x="159" y="398.0" width="8" height="29.0" fill="#bebebe"/>
<rect x="171" y="402.0" width="8" height="25.0" fill="#eec8c8"/>
<rect x="183" y="414.0" width="8" height="13.0" fill="#eec8c8"/>
<rect x="195" y="422.0" width="8" height="5.0" fill="#eec8c8"/>
<rect x="207" y="423.0" width="8" height="4.0" fill="#eec8c8"/>
<rect x="220" y="422.0" width="8" height="5.0" fill="#bebebe"/>
<rect x="244" y="418.0" width="8" height="9.0" fill="#bebebe"/>
<rect x="256" y="393.0" width="8" height="34.0" fill="#bebebe"/>
<rect x="268" y="408.0" width="8" height="19.0" fill="#eec8c8"/>
<rect x="280" y="406.0" width="8" height="21.0" fill="#bebebe"/>
<rect x="292" y="405.0" width="8" height="22.0" fill="#bebebe"/>
<rect x="305" y="414.0" width="8" height="13.0" fill="#eec8c8"/>
<rect x="317" y="383.0" width="8" height="44.0" fill="#bebebe"/>
<rect x="329" y="392.5" width="8" height="34.5" fill="#eec8c8"/>
<rect x="341" y="360.0" width="8" height="67.0" fill="#bebebe"/>
<rect x="353" y="386.0" width="8" height="41.0" fill="#eec8c8"/>
<rect x="365" y="417.0" width="8" height="10.0" fill="#eec8c8"/>
<rect x="377" y="419.0" width="8" height="8.0" fill="#eec8c8"/>
<rect x="389" y="424.0" width="8" height="3.0" fill="#eec8c8"/>
<rect x="402" y="423.0" width="8" height="4.0" fill="#bebebe"/>
<rect x="426" y="422.0" width="8" height="5.0" fill="#bebebe"/>
<rect x="438" y="400.0" width="8" height="27.0" fill="#bebebe"/>
<rect x="450" y="412.0" width="8" height="15.0" fill="#eec8c8"/>
<rect x="462" y="409.0" width="8" height="18.0" fill="#bebebe"/>
<rect x="474" y="408.0" width="8" height="19.0" fill="#bebebe"/>
<rect x="487" y="415.0" width="8" height="12.0" fill="#eec8c8"/>
<rect x="499" y="413.0" width="8" height="14.0" fill="#bebebe"/>
<rect x="511" y="382.0" width="8" height="45.0" fill="#bebebe"/>
<rect x="523" y="344.0" width="8" height="83.0" fill="#bebebe"/>
<rect x="535" y="374.0" width="8" height="53.0" fill="#eec8c8"/>
<rect x="547" y="417.0" width="8" height="10.0" fill="#eec8c8"/>
<rect x="559" y="418.0" width="8" height="9.0" fill="#eec8c8"/>
<rect x="571" y="401.0" width="8" height="26.0" fill="#bebebe"/>
<rect x="584" y="419.0" width="8" height="8.0" fill="#eec8c8"/>
<rect x="608" y="418.0" width="8" height="9.0" fill="#bebebe"/>
<rect x="620" y="385.0" width="8" height="42.0" fill="#bebebe"/>
<rect x="632" y="391.0" width="8" height="36.0" fill="#eec8c8"/>
<rect x="644" y="392.0" width="8" height="35.0" fill="#eec8c8"/>
<rect x="656" y="413.0" width="8" height="14.0" fill="#eec8c8"/>
<rect x="668" y="417.0" width="8" height="10.0" fill="#eec8c8"/>
<rect x="681" y="389.0" width="8" height="38.0" fill="#bebebe"/>
<rect x="693" y="362.0" width="8" height="65.0" fill="#bebebe"/>
<rect x="705" y="348.0" width="8" height="79.0" fill="#bebebe"/>
<rect x="717" y="380.0" width="8" height="47.0" fill="#eec8c8"/>
<rect x="729" y="406.0" width="8" height="21.0" fill="#eec8c8"/>
<rect x="741" y="415.0" width="8" height="12.0" fill="#eec8c8"/>
<rect x="753" y="423.0" width="8" height="4.0" fill="#eec8c8"/>
<rect x="766" y="421.0" width="8" height="6.0" fill="#bebebe"/>
<rect x="790" y="421.0" width="8" height="6.0" fill="#bebebe"/>
<rect x="802" y="397.0" width="8" height="30.0" fill="#bebebe"/>
<rect x="814" y="410.0" width="8" height="17.0" fill="#eec8c8"/>
<rect x="826" y="404.0" width="8" height="23.0" fill="#bebebe"/>
<rect x="838" y="418.0" width="8" height="9.0" fill="#eec8c8"/>
<rect x="850" y="421.0" width="8" height="6.0" fill="#eec8c8"/>
</g>
<polygon points="31.4,305.4 40.0,302.6 55.0,298.4 61.0,299.3 66.8,300.6 83.5,300.4 91.0,299.8 103.6,299.3 113.6,297.2 127.0,294.2 140.4,290.9 152.0,286.7 158.7,283.0 164.0,278.0 167.0,274.0 170.0,271.5 176.0,265.0 182.0,257.5 188.0,252.5 200.0,240.3 212.0,230.0 225.0,218.5 237.0,210.0 249.0,204.3 261.0,197.3 273.0,189.8 285.0,179.3 297.0,166.7 310.0,161.0 322.0,158.4 330.0,156.6 335.0,155.3 341.7,150.3 348.4,146.1 358.4,141.9 370.1,136.1 381.8,129.4 391.9,123.5 403.6,116.0 413.6,109.6 422.0,106.5 432.0,105.1 443.7,101.0 455.4,98.4 467.1,90.9 477.1,83.4 483.8,80.0 492.2,77.6 498.0,75.0 503.0,72.5 510.0,72.0 516.0,73.0 528.0,75.0 540.0,76.0 552.0,77.5 558.0,80.0 564.0,83.0 570.0,83.0 576.0,81.7 589.0,79.0 601.0,77.1 615.0,77.1 626.7,74.3 640.1,71.3 650.2,70.1 666.9,70.1 673.6,69.3 683.6,71.3 690.3,70.4 697.8,69.3 708.7,79.3 722.0,91.6 728.0,97.3 734.0,103.2 737.1,106.0 746.3,117.2 752.0,118.6 757.1,119.4 764.0,115.4 767.2,113.6 771.0,110.5 783.0,103.7 795.0,103.0 807.0,100.9 819.0,96.4 831.0,93.0 843.0,91.3 856.0,89.0 856.0,280.2 849.5,280.4 848.5,281.0 829.0,281.8 814.0,282.3 804.0,283.0 795.3,282.3 781.5,281.5 766.5,277.3 758.0,275.0 746.0,277.8 734.0,283.6 722.0,290.0 716.0,291.6 710.0,293.0 704.0,292.0 698.0,290.0 692.0,278.6 686.0,272.0 680.0,268.5 673.0,263.5 661.0,254.0 649.5,243.5 637.0,232.6 630.0,224.0 625.0,217.7 613.0,209.0 601.0,205.0 589.0,198.8 576.0,193.4 570.0,192.0 564.0,191.8 558.0,197.6 552.0,203.8 540.0,207.6 528.0,209.6 516.0,213.5 504.0,223.5 498.0,227.0 492.0,230.5 487.1,233.6 478.8,240.3 467.1,244.5 455.4,248.3 443.7,253.7 431.0,260.0 425.3,263.7 419.0,266.5 407.0,272.5 394.0,281.0 382.0,291.0 370.0,300.0 358.0,308.5 348.0,316.9 335.5,326.9 322.1,336.9 308.7,347.0 302.0,351.1 297.0,354.0 280.3,355.7 258.6,357.8 243.5,359.5 221.8,360.7 205.0,362.3 185.0,362.5 175.5,361.6 158.7,357.3 152.0,355.6 142.0,356.9 125.3,357.4 118.6,356.1 103.6,355.6 96.9,355.8 78.5,358.3 66.8,359.4 56.0,364.0 40.0,365.6 31.4,366.6" fill="#c0c0c0"/>
<g shape-rendering="crispEdges" clip-path="url(#bandclip)">
<line x1="25" y1="41.5" x2="946" y2="41.5" stroke="#7dfc7d"/>
<line x1="25" y1="195.5" x2="946" y2="195.5" stroke="#7dfc7d"/>
<line x1="25" y1="348.5" x2="946" y2="348.5" stroke="#7dfc7d"/>
<line x1="25" y1="520.5" x2="946" y2="520.5" stroke="#7dfc7d"/>
<line x1="25" y1="588.5" x2="946" y2="588.5" stroke="#7dfc7d"/>
<line x1="25" y1="699.5" x2="946" y2="699.5" stroke="#7dfc7d"/>
<line x1="67.5" y1="9" x2="67.5" y2="427" stroke="#7dfc7d"/>
<line x1="67.5" y1="430" x2="67.5" y2="568" stroke="#7dfc7d"/>
<line x1="67.5" y1="571" x2="67.5" y2="709" stroke="#7dfc7d"/>
<line x1="249.5" y1="9" x2="249.5" y2="427" stroke="#7dfc7d"/>
<line x1="249.5" y1="430" x2="249.5" y2="568" stroke="#7dfc7d"/>
<line x1="249.5" y1="571" x2="249.5" y2="709" stroke="#7dfc7d"/>
<line x1="431.5" y1="9" x2="431.5" y2="427" stroke="#7dfc7d"/>
<line x1="431.5" y1="430" x2="431.5" y2="568" stroke="#7dfc7d"/>
<line x1="431.5" y1="571" x2="431.5" y2="709" stroke="#7dfc7d"/>
<line x1="613.5" y1="9" x2="613.5" y2="427" stroke="#7dfc7d"/>
<line x1="613.5" y1="430" x2="613.5" y2="568" stroke="#7dfc7d"/>
<line x1="613.5" y1="571" x2="613.5" y2="709" stroke="#7dfc7d"/>
<line x1="795.5" y1="9" x2="795.5" y2="427" stroke="#7dfc7d"/>
<line x1="795.5" y1="430" x2="795.5" y2="568" stroke="#7dfc7d"/>
<line x1="795.5" y1="571" x2="795.5" y2="709" stroke="#7dfc7d"/>
<line x1="25" y1="22.5" x2="946" y2="22.5" stroke="#7dfc7d" stroke-dasharray="1 5"/>
<line x1="24" y1="22.5" x2="946" y2="22.5" stroke="#7dfc7d" stroke-dasharray="3 3" opacity="0.8"/>
<line x1="25" y1="21.5" x2="946" y2="21.5" stroke="#7dfc7d" stroke-dasharray="1 5" opacity="0.8"/>
<line x1="25" y1="23.5" x2="946" y2="23.5" stroke="#7dfc7d" stroke-dasharray="1 5" opacity="0.8"/>
<line x1="25" y1="61.5" x2="946" y2="61.5" stroke="#7dfc7d" stroke-dasharray="1 5"/>
<line x1="24" y1="61.5" x2="946" y2="61.5" stroke="#7dfc7d" stroke-dasharray="3 3" opacity="0.8"/>
<line x1="25" y1="60.5" x2="946" y2="60.5" stroke="#7dfc7d" stroke-dasharray="1 5" opacity="0.8"/>
<line x1="25" y1="62.5" x2="946" y2="62.5" stroke="#7dfc7d" stroke-dasharray="1 5" opacity="0.8"/>
<line x1="25" y1="80.5" x2="946" y2="80.5" stroke="#7dfc7d" stroke-dasharray="1 5"/>
<line x1="24" y1="80.5" x2="946" y2="80.5" stroke="#7dfc7d" stroke-dasharray="3 3" opacity="0.8"/>
<line x1="25" y1="79.5" x2="946" y2="79.5" stroke="#7dfc7d" stroke-dasharray="1 5" opacity="0.8"/>
<line x1="25" y1="81.5" x2="946" y2="81.5" stroke="#7dfc7d" stroke-dasharray="1 5" opacity="0.8"/>
<line x1="25" y1="99.5" x2="946" y2="99.5" stroke="#7dfc7d" stroke-dasharray="1 5"/>
<line x1="24" y1="99.5" x2="946" y2="99.5" stroke="#7dfc7d" stroke-dasharray="3 3" opacity="0.8"/>
<line x1="25" y1="98.5" x2="946" y2="98.5" stroke="#7dfc7d" stroke-dasharray="1 5" opacity="0.8"/>
<line x1="25" y1="100.5" x2="946" y2="100.5" stroke="#7dfc7d" stroke-dasharray="1 5" opacity="0.8"/>
<line x1="25" y1="118.5" x2="946" y2="118.5" stroke="#7dfc7d" stroke-dasharray="1 5"/>
<line x1="24" y1="118.5" x2="946" y2="118.5" stroke="#7dfc7d" stroke-dasharray="3 3" opacity="0.8"/>
<line x1="25" y1="117.5" x2="946" y2="117.5" stroke="#7dfc7d" stroke-dasharray="1 5" opacity="0.8"/>
<line x1="25" y1="119.5" x2="946" y2="119.5" stroke="#7dfc7d" stroke-dasharray="1 5" opacity="0.8"/>
<line x1="25" y1="137.5" x2="946" y2="137.5" stroke="#7dfc7d" stroke-dasharray="1 5"/>
<line x1="24" y1="137.5" x2="946" y2="137.5" stroke="#7dfc7d" stroke-dasharray="3 3" opacity="0.8"/>
<line x1="25" y1="136.5" x2="946" y2="136.5" stroke="#7dfc7d" stroke-dasharray="1 5" opacity="0.8"/>
<line x1="25" y1="138.5" x2="946" y2="138.5" stroke="#7dfc7d" stroke-dasharray="1 5" opacity="0.8"/>
<line x1="25" y1="156.5" x2="946" y2="156.5" stroke="#7dfc7d" stroke-dasharray="1 5"/>
<line x1="24" y1="156.5" x2="946" y2="156.5" stroke="#7dfc7d" stroke-dasharray="3 3" opacity="0.8"/>
<line x1="25" y1="155.5" x2="946" y2="155.5" stroke="#7dfc7d" stroke-dasharray="1 5" opacity="0.8"/>
<line x1="25" y1="157.5" x2="946" y2="157.5" stroke="#7dfc7d" stroke-dasharray="1 5" opacity="0.8"/>
<line x1="25" y1="175.5" x2="946" y2="175.5" stroke="#7dfc7d" stroke-dasharray="1 5"/>
<line x1="24" y1="175.5" x2="946" y2="175.5" stroke="#7dfc7d" stroke-dasharray="3 3" opacity="0.8"/>
<line x1="25" y1="174.5" x2="946" y2="174.5" stroke="#7dfc7d" stroke-dasharray="1 5" opacity="0.8"/>
<line x1="25" y1="176.5" x2="946" y2="176.5" stroke="#7dfc7d" stroke-dasharray="1 5" opacity="0.8"/>
<line x1="25" y1="214.5" x2="946" y2="214.5" stroke="#7dfc7d" stroke-dasharray="1 5"/>
<line x1="24" y1="214.5" x2="946" y2="214.5" stroke="#7dfc7d" stroke-dasharray="3 3" opacity="0.8"/>
<line x1="25" y1="213.5" x2="946" y2="213.5" stroke="#7dfc7d" stroke-dasharray="1 5" opacity="0.8"/>
<line x1="25" y1="215.5" x2="946" y2="215.5" stroke="#7dfc7d" stroke-dasharray="1 5" opacity="0.8"/>
<line x1="25" y1="233.5" x2="946" y2="233.5" stroke="#7dfc7d" stroke-dasharray="1 5"/>
<line x1="24" y1="233.5" x2="946" y2="233.5" stroke="#7dfc7d" stroke-dasharray="3 3" opacity="0.8"/>
<line x1="25" y1="232.5" x2="946" y2="232.5" stroke="#7dfc7d" stroke-dasharray="1 5" opacity="0.8"/>
<line x1="25" y1="234.5" x2="946" y2="234.5" stroke="#7dfc7d" stroke-dasharray="1 5" opacity="0.8"/>
<line x1="25" y1="252.5" x2="946" y2="252.5" stroke="#7dfc7d" stroke-dasharray="1 5"/>
<line x1="24" y1="252.5" x2="946" y2="252.5" stroke="#7dfc7d" stroke-dasharray="3 3" opacity="0.8"/>
<line x1="25" y1="251.5" x2="946" y2="251.5" stroke="#7dfc7d" stroke-dasharray="1 5" opacity="0.8"/>
<line x1="25" y1="253.5" x2="946" y2="253.5" stroke="#7dfc7d" stroke-dasharray="1 5" opacity="0.8"/>
<line x1="25" y1="271.5" x2="946" y2="271.5" stroke="#7dfc7d" stroke-dasharray="1 5"/>
<line x1="24" y1="271.5" x2="946" y2="271.5" stroke="#7dfc7d" stroke-dasharray="3 3" opacity="0.8"/>
<line x1="25" y1="270.5" x2="946" y2="270.5" stroke="#7dfc7d" stroke-dasharray="1 5" opacity="0.8"/>
<line x1="25" y1="272.5" x2="946" y2="272.5" stroke="#7dfc7d" stroke-dasharray="1 5" opacity="0.8"/>
<line x1="25" y1="290.5" x2="946" y2="290.5" stroke="#7dfc7d" stroke-dasharray="1 5"/>
<line x1="24" y1="290.5" x2="946" y2="290.5" stroke="#7dfc7d" stroke-dasharray="3 3" opacity="0.8"/>
<line x1="25" y1="289.5" x2="946" y2="289.5" stroke="#7dfc7d" stroke-dasharray="1 5" opacity="0.8"/>
<line x1="25" y1="291.5" x2="946" y2="291.5" stroke="#7dfc7d" stroke-dasharray="1 5" opacity="0.8"/>
<line x1="25" y1="309.5" x2="946" y2="309.5" stroke="#7dfc7d" stroke-dasharray="1 5"/>
<line x1="24" y1="309.5" x2="946" y2="309.5" stroke="#7dfc7d" stroke-dasharray="3 3" opacity="0.8"/>
<line x1="25" y1="308.5" x2="946" y2="308.5" stroke="#7dfc7d" stroke-dasharray="1 5" opacity="0.8"/>
<line x1="25" y1="310.5" x2="946" y2="310.5" stroke="#7dfc7d" stroke-dasharray="1 5" opacity="0.8"/>
<line x1="25" y1="329.5" x2="946" y2="329.5" stroke="#7dfc7d" stroke-dasharray="1 5"/>
<line x1="24" y1="329.5" x2="946" y2="329.5" stroke="#7dfc7d" stroke-dasharray="3 3" opacity="0.8"/>
<line x1="25" y1="328.5" x2="946" y2="328.5" stroke="#7dfc7d" stroke-dasharray="1 5" opacity="0.8"/>
<line x1="25" y1="330.5" x2="946" y2="330.5" stroke="#7dfc7d" stroke-dasharray="1 5" opacity="0.8"/>
<line x1="25" y1="367.5" x2="946" y2="367.5" stroke="#7dfc7d" stroke-dasharray="1 5"/>
<line x1="24" y1="367.5" x2="946" y2="367.5" stroke="#7dfc7d" stroke-dasharray="3 3" opacity="0.8"/>
<line x1="25" y1="366.5" x2="946" y2="366.5" stroke="#7dfc7d" stroke-dasharray="1 5" opacity="0.8"/>
<line x1="25" y1="368.5" x2="946" y2="368.5" stroke="#7dfc7d" stroke-dasharray="1 5" opacity="0.8"/>
<line x1="25" y1="386.5" x2="946" y2="386.5" stroke="#7dfc7d" stroke-dasharray="1 5"/>
<line x1="24" y1="386.5" x2="946" y2="386.5" stroke="#7dfc7d" stroke-dasharray="3 3" opacity="0.8"/>
<line x1="25" y1="385.5" x2="946" y2="385.5" stroke="#7dfc7d" stroke-dasharray="1 5" opacity="0.8"/>
<line x1="25" y1="387.5" x2="946" y2="387.5" stroke="#7dfc7d" stroke-dasharray="1 5" opacity="0.8"/>
<line x1="25" y1="405.5" x2="946" y2="405.5" stroke="#7dfc7d" stroke-dasharray="1 5"/>
<line x1="24" y1="405.5" x2="946" y2="405.5" stroke="#7dfc7d" stroke-dasharray="3 3" opacity="0.8"/>
<line x1="25" y1="404.5" x2="946" y2="404.5" stroke="#7dfc7d" stroke-dasharray="1 5" opacity="0.8"/>
<line x1="25" y1="406.5" x2="946" y2="406.5" stroke="#7dfc7d" stroke-dasharray="1 5" opacity="0.8"/>
<line x1="25" y1="424.5" x2="946" y2="424.5" stroke="#7dfc7d" stroke-dasharray="1 5"/>
<line x1="24" y1="424.5" x2="946" y2="424.5" stroke="#7dfc7d" stroke-dasharray="3 3" opacity="0.8"/>
<line x1="25" y1="423.5" x2="946" y2="423.5" stroke="#7dfc7d" stroke-dasharray="1 5" opacity="0.8"/>
<line x1="25" y1="425.5" x2="946" y2="425.5" stroke="#7dfc7d" stroke-dasharray="1 5" opacity="0.8"/>
<line x1="25" y1="439.5" x2="946" y2="439.5" stroke="#7dfc7d" stroke-dasharray="1 5"/>
<line x1="24" y1="439.5" x2="946" y2="439.5" stroke="#7dfc7d" stroke-dasharray="3 3" opacity="0.8"/>
<line x1="25" y1="438.5" x2="946" y2="438.5" stroke="#7dfc7d" stroke-dasharray="1 5" opacity="0.8"/>
<line x1="25" y1="440.5" x2="946" y2="440.5" stroke="#7dfc7d" stroke-dasharray="1 5" opacity="0.8"/>
<line x1="25" y1="453.5" x2="946" y2="453.5" stroke="#7dfc7d" stroke-dasharray="1 5"/>
<line x1="24" y1="453.5" x2="946" y2="453.5" stroke="#7dfc7d" stroke-dasharray="3 3" opacity="0.8"/>
<line x1="25" y1="452.5" x2="946" y2="452.5" stroke="#7dfc7d" stroke-dasharray="1 5" opacity="0.8"/>
<line x1="25" y1="454.5" x2="946" y2="454.5" stroke="#7dfc7d" stroke-dasharray="1 5" opacity="0.8"/>
<line x1="25" y1="466.5" x2="946" y2="466.5" stroke="#7dfc7d" stroke-dasharray="1 5"/>
<line x1="24" y1="466.5" x2="946" y2="466.5" stroke="#7dfc7d" stroke-dasharray="3 3" opacity="0.8"/>
<line x1="25" y1="465.5" x2="946" y2="465.5" stroke="#7dfc7d" stroke-dasharray="1 5" opacity="0.8"/>
<line x1="25" y1="467.5" x2="946" y2="467.5" stroke="#7dfc7d" stroke-dasharray="1 5" opacity="0.8"/>
<line x1="25" y1="480.5" x2="946" y2="480.5" stroke="#7dfc7d" stroke-dasharray="1 5"/>
<line x1="24" y1="480.5" x2="946" y2="480.5" stroke="#7dfc7d" stroke-dasharray="3 3" opacity="0.8"/>
<line x1="25" y1="479.5" x2="946" y2="479.5" stroke="#7dfc7d" stroke-dasharray="1 5" opacity="0.8"/>
<line x1="25" y1="481.5" x2="946" y2="481.5" stroke="#7dfc7d" stroke-dasharray="1 5" opacity="0.8"/>
<line x1="25" y1="493.5" x2="946" y2="493.5" stroke="#7dfc7d" stroke-dasharray="1 5"/>
<line x1="24" y1="493.5" x2="946" y2="493.5" stroke="#7dfc7d" stroke-dasharray="3 3" opacity="0.8"/>
<line x1="25" y1="492.5" x2="946" y2="492.5" stroke="#7dfc7d" stroke-dasharray="1 5" opacity="0.8"/>
<line x1="25" y1="494.5" x2="946" y2="494.5" stroke="#7dfc7d" stroke-dasharray="1 5" opacity="0.8"/>
<line x1="25" y1="507.5" x2="946" y2="507.5" stroke="#7dfc7d" stroke-dasharray="1 5"/>
<line x1="24" y1="507.5" x2="946" y2="507.5" stroke="#7dfc7d" stroke-dasharray="3 3" opacity="0.8"/>
<line x1="25" y1="506.5" x2="946" y2="506.5" stroke="#7dfc7d" stroke-dasharray="1 5" opacity="0.8"/>
<line x1="25" y1="508.5" x2="946" y2="508.5" stroke="#7dfc7d" stroke-dasharray="1 5" opacity="0.8"/>
<line x1="25" y1="534.5" x2="946" y2="534.5" stroke="#7dfc7d" stroke-dasharray="1 5"/>
<line x1="24" y1="534.5" x2="946" y2="534.5" stroke="#7dfc7d" stroke-dasharray="3 3" opacity="0.8"/>
<line x1="25" y1="533.5" x2="946" y2="533.5" stroke="#7dfc7d" stroke-dasharray="1 5" opacity="0.8"/>
<line x1="25" y1="535.5" x2="946" y2="535.5" stroke="#7dfc7d" stroke-dasharray="1 5" opacity="0.8"/>
<line x1="25" y1="547.5" x2="946" y2="547.5" stroke="#7dfc7d" stroke-dasharray="1 5"/>
<line x1="24" y1="547.5" x2="946" y2="547.5" stroke="#7dfc7d" stroke-dasharray="3 3" opacity="0.8"/>
<line x1="25" y1="546.5" x2="946" y2="546.5" stroke="#7dfc7d" stroke-dasharray="1 5" opacity="0.8"/>
<line x1="25" y1="548.5" x2="946" y2="548.5" stroke="#7dfc7d" stroke-dasharray="1 5" opacity="0.8"/>
<line x1="25" y1="560.5" x2="946" y2="560.5" stroke="#7dfc7d" stroke-dasharray="1 5"/>
<line x1="24" y1="560.5" x2="946" y2="560.5" stroke="#7dfc7d" stroke-dasharray="3 3" opacity="0.8"/>
<line x1="25" y1="559.5" x2="946" y2="559.5" stroke="#7dfc7d" stroke-dasharray="1 5" opacity="0.8"/>
<line x1="25" y1="561.5" x2="946" y2="561.5" stroke="#7dfc7d" stroke-dasharray="1 5" opacity="0.8"/>
<line x1="25" y1="574.5" x2="946" y2="574.5" stroke="#7dfc7d" stroke-dasharray="1 5"/>
<line x1="24" y1="574.5" x2="946" y2="574.5" stroke="#7dfc7d" stroke-dasharray="3 3" opacity="0.8"/>
<line x1="25" y1="573.5" x2="946" y2="573.5" stroke="#7dfc7d" stroke-dasharray="1 5" opacity="0.8"/>
<line x1="25" y1="575.5" x2="946" y2="575.5" stroke="#7dfc7d" stroke-dasharray="1 5" opacity="0.8"/>
<line x1="25" y1="602.5" x2="946" y2="602.5" stroke="#7dfc7d" stroke-dasharray="1 5"/>
<line x1="24" y1="602.5" x2="946" y2="602.5" stroke="#7dfc7d" stroke-dasharray="3 3" opacity="0.8"/>
<line x1="25" y1="601.5" x2="946" y2="601.5" stroke="#7dfc7d" stroke-dasharray="1 5" opacity="0.8"/>
<line x1="25" y1="603.5" x2="946" y2="603.5" stroke="#7dfc7d" stroke-dasharray="1 5" opacity="0.8"/>
<line x1="25" y1="616.5" x2="946" y2="616.5" stroke="#7dfc7d" stroke-dasharray="1 5"/>
<line x1="24" y1="616.5" x2="946" y2="616.5" stroke="#7dfc7d" stroke-dasharray="3 3" opacity="0.8"/>
<line x1="25" y1="615.5" x2="946" y2="615.5" stroke="#7dfc7d" stroke-dasharray="1 5" opacity="0.8"/>
<line x1="25" y1="617.5" x2="946" y2="617.5" stroke="#7dfc7d" stroke-dasharray="1 5" opacity="0.8"/>
<line x1="25" y1="630.5" x2="946" y2="630.5" stroke="#7dfc7d" stroke-dasharray="1 5"/>
<line x1="24" y1="630.5" x2="946" y2="630.5" stroke="#7dfc7d" stroke-dasharray="3 3" opacity="0.8"/>
<line x1="25" y1="629.5" x2="946" y2="629.5" stroke="#7dfc7d" stroke-dasharray="1 5" opacity="0.8"/>
<line x1="25" y1="631.5" x2="946" y2="631.5" stroke="#7dfc7d" stroke-dasharray="1 5" opacity="0.8"/>
<line x1="25" y1="644.5" x2="946" y2="644.5" stroke="#7dfc7d" stroke-dasharray="1 5"/>
<line x1="24" y1="644.5" x2="946" y2="644.5" stroke="#7dfc7d" stroke-dasharray="3 3" opacity="0.8"/>
<line x1="25" y1="643.5" x2="946" y2="643.5" stroke="#7dfc7d" stroke-dasharray="1 5" opacity="0.8"/>
<line x1="25" y1="645.5" x2="946" y2="645.5" stroke="#7dfc7d" stroke-dasharray="1 5" opacity="0.8"/>
<line x1="25" y1="658.5" x2="946" y2="658.5" stroke="#7dfc7d" stroke-dasharray="1 5"/>
<line x1="24" y1="658.5" x2="946" y2="658.5" stroke="#7dfc7d" stroke-dasharray="3 3" opacity="0.8"/>
<line x1="25" y1="657.5" x2="946" y2="657.5" stroke="#7dfc7d" stroke-dasharray="1 5" opacity="0.8"/>
<line x1="25" y1="659.5" x2="946" y2="659.5" stroke="#7dfc7d" stroke-dasharray="1 5" opacity="0.8"/>
<line x1="25" y1="671.5" x2="946" y2="671.5" stroke="#7dfc7d" stroke-dasharray="1 5"/>
<line x1="24" y1="671.5" x2="946" y2="671.5" stroke="#7dfc7d" stroke-dasharray="3 3" opacity="0.8"/>
<line x1="25" y1="670.5" x2="946" y2="670.5" stroke="#7dfc7d" stroke-dasharray="1 5" opacity="0.8"/>
<line x1="25" y1="672.5" x2="946" y2="672.5" stroke="#7dfc7d" stroke-dasharray="1 5" opacity="0.8"/>
<line x1="25" y1="685.5" x2="946" y2="685.5" stroke="#7dfc7d" stroke-dasharray="1 5"/>
<line x1="24" y1="685.5" x2="946" y2="685.5" stroke="#7dfc7d" stroke-dasharray="3 3" opacity="0.8"/>
<line x1="25" y1="684.5" x2="946" y2="684.5" stroke="#7dfc7d" stroke-dasharray="1 5" opacity="0.8"/>
<line x1="25" y1="686.5" x2="946" y2="686.5" stroke="#7dfc7d" stroke-dasharray="1 5" opacity="0.8"/>
<line x1="31.5" y1="9" x2="31.5" y2="427" stroke="#7dfc7d" stroke-dasharray="1 5"/>
<line x1="31.5" y1="8" x2="31.5" y2="427" stroke="#7dfc7d" stroke-dasharray="3 3" opacity="0.8"/>
<line x1="30.5" y1="9" x2="30.5" y2="427" stroke="#7dfc7d" stroke-dasharray="1 5" opacity="0.8"/>
<line x1="32.5" y1="9" x2="32.5" y2="427" stroke="#7dfc7d" stroke-dasharray="1 5" opacity="0.8"/>
<line x1="31.5" y1="430" x2="31.5" y2="568" stroke="#7dfc7d" stroke-dasharray="1 5"/>
<line x1="31.5" y1="429" x2="31.5" y2="568" stroke="#7dfc7d" stroke-dasharray="3 3" opacity="0.8"/>
<line x1="30.5" y1="430" x2="30.5" y2="568" stroke="#7dfc7d" stroke-dasharray="1 5" opacity="0.8"/>
<line x1="32.5" y1="430" x2="32.5" y2="568" stroke="#7dfc7d" stroke-dasharray="1 5" opacity="0.8"/>
<line x1="31.5" y1="571" x2="31.5" y2="709" stroke="#7dfc7d" stroke-dasharray="1 5"/>
<line x1="31.5" y1="570" x2="31.5" y2="709" stroke="#7dfc7d" stroke-dasharray="3 3" opacity="0.8"/>
<line x1="30.5" y1="571" x2="30.5" y2="709" stroke="#7dfc7d" stroke-dasharray="1 5" opacity="0.8"/>
<line x1="32.5" y1="571" x2="32.5" y2="709" stroke="#7dfc7d" stroke-dasharray="1 5" opacity="0.8"/>
<line x1="103.5" y1="9" x2="103.5" y2="427" stroke="#7dfc7d" stroke-dasharray="1 5"/>
<line x1="103.5" y1="8" x2="103.5" y2="427" stroke="#7dfc7d" stroke-dasharray="3 3" opacity="0.8"/>
<line x1="102.5" y1="9" x2="102.5" y2="427" stroke="#7dfc7d" stroke-dasharray="1 5" opacity="0.8"/>
<line x1="104.5" y1="9" x2="104.5" y2="427" stroke="#7dfc7d" stroke-dasharray="1 5" opacity="0.8"/>
<line x1="103.5" y1="430" x2="103.5" y2="568" stroke="#7dfc7d" stroke-dasharray="1 5"/>
<line x1="103.5" y1="429" x2="103.5" y2="568" stroke="#7dfc7d" stroke-dasharray="3 3" opacity="0.8"/>
<line x1="102.5" y1="430" x2="102.5" y2="568" stroke="#7dfc7d" stroke-dasharray="1 5" opacity="0.8"/>
<line x1="104.5" y1="430" x2="104.5" y2="568" stroke="#7dfc7d" stroke-dasharray="1 5" opacity="0.8"/>
<line x1="103.5" y1="571" x2="103.5" y2="709" stroke="#7dfc7d" stroke-dasharray="1 5"/>
<line x1="103.5" y1="570" x2="103.5" y2="709" stroke="#7dfc7d" stroke-dasharray="3 3" opacity="0.8"/>
<line x1="102.5" y1="571" x2="102.5" y2="709" stroke="#7dfc7d" stroke-dasharray="1 5" opacity="0.8"/>
<line x1="104.5" y1="571" x2="104.5" y2="709" stroke="#7dfc7d" stroke-dasharray="1 5" opacity="0.8"/>
<line x1="176.5" y1="9" x2="176.5" y2="427" stroke="#7dfc7d" stroke-dasharray="1 5"/>
<line x1="176.5" y1="8" x2="176.5" y2="427" stroke="#7dfc7d" stroke-dasharray="3 3" opacity="0.8"/>
<line x1="175.5" y1="9" x2="175.5" y2="427" stroke="#7dfc7d" stroke-dasharray="1 5" opacity="0.8"/>
<line x1="177.5" y1="9" x2="177.5" y2="427" stroke="#7dfc7d" stroke-dasharray="1 5" opacity="0.8"/>
<line x1="176.5" y1="430" x2="176.5" y2="568" stroke="#7dfc7d" stroke-dasharray="1 5"/>
<line x1="176.5" y1="429" x2="176.5" y2="568" stroke="#7dfc7d" stroke-dasharray="3 3" opacity="0.8"/>
<line x1="175.5" y1="430" x2="175.5" y2="568" stroke="#7dfc7d" stroke-dasharray="1 5" opacity="0.8"/>
<line x1="177.5" y1="430" x2="177.5" y2="568" stroke="#7dfc7d" stroke-dasharray="1 5" opacity="0.8"/>
<line x1="176.5" y1="571" x2="176.5" y2="709" stroke="#7dfc7d" stroke-dasharray="1 5"/>
<line x1="176.5" y1="570" x2="176.5" y2="709" stroke="#7dfc7d" stroke-dasharray="3 3" opacity="0.8"/>
<line x1="175.5" y1="571" x2="175.5" y2="709" stroke="#7dfc7d" stroke-dasharray="1 5" opacity="0.8"/>
<line x1="177.5" y1="571" x2="177.5" y2="709" stroke="#7dfc7d" stroke-dasharray="1 5" opacity="0.8"/>
<line x1="285.5" y1="9" x2="285.5" y2="427" stroke="#7dfc7d" stroke-dasharray="1 5"/>
<line x1="285.5" y1="8" x2="285.5" y2="427" stroke="#7dfc7d" stroke-dasharray="3 3" opacity="0.8"/>
<line x1="284.5" y1="9" x2="284.5" y2="427" stroke="#7dfc7d" stroke-dasharray="1 5" opacity="0.8"/>
<line x1="286.5" y1="9" x2="286.5" y2="427" stroke="#7dfc7d" stroke-dasharray="1 5" opacity="0.8"/>
<line x1="285.5" y1="430" x2="285.5" y2="568" stroke="#7dfc7d" stroke-dasharray="1 5"/>
<line x1="285.5" y1="429" x2="285.5" y2="568" stroke="#7dfc7d" stroke-dasharray="3 3" opacity="0.8"/>
<line x1="284.5" y1="430" x2="284.5" y2="568" stroke="#7dfc7d" stroke-dasharray="1 5" opacity="0.8"/>
<line x1="286.5" y1="430" x2="286.5" y2="568" stroke="#7dfc7d" stroke-dasharray="1 5" opacity="0.8"/>
<line x1="285.5" y1="571" x2="285.5" y2="709" stroke="#7dfc7d" stroke-dasharray="1 5"/>
<line x1="285.5" y1="570" x2="285.5" y2="709" stroke="#7dfc7d" stroke-dasharray="3 3" opacity="0.8"/>
<line x1="284.5" y1="571" x2="284.5" y2="709" stroke="#7dfc7d" stroke-dasharray="1 5" opacity="0.8"/>
<line x1="286.5" y1="571" x2="286.5" y2="709" stroke="#7dfc7d" stroke-dasharray="1 5" opacity="0.8"/>
<line x1="358.5" y1="9" x2="358.5" y2="427" stroke="#7dfc7d" stroke-dasharray="1 5"/>
<line x1="358.5" y1="8" x2="358.5" y2="427" stroke="#7dfc7d" stroke-dasharray="3 3" opacity="0.8"/>
<line x1="357.5" y1="9" x2="357.5" y2="427" stroke="#7dfc7d" stroke-dasharray="1 5" opacity="0.8"/>
<line x1="359.5" y1="9" x2="359.5" y2="427" stroke="#7dfc7d" stroke-dasharray="1 5" opacity="0.8"/>
<line x1="358.5" y1="430" x2="358.5" y2="568" stroke="#7dfc7d" stroke-dasharray="1 5"/>
<line x1="358.5" y1="429" x2="358.5" y2="568" stroke="#7dfc7d" stroke-dasharray="3 3" opacity="0.8"/>
<line x1="357.5" y1="430" x2="357.5" y2="568" stroke="#7dfc7d" stroke-dasharray="1 5" opacity="0.8"/>
<line x1="359.5" y1="430" x2="359.5" y2="568" stroke="#7dfc7d" stroke-dasharray="1 5" opacity="0.8"/>
<line x1="358.5" y1="571" x2="358.5" y2="709" stroke="#7dfc7d" stroke-dasharray="1 5"/>
<line x1="358.5" y1="570" x2="358.5" y2="709" stroke="#7dfc7d" stroke-dasharray="3 3" opacity="0.8"/>
<line x1="357.5" y1="571" x2="357.5" y2="709" stroke="#7dfc7d" stroke-dasharray="1 5" opacity="0.8"/>
<line x1="359.5" y1="571" x2="359.5" y2="709" stroke="#7dfc7d" stroke-dasharray="1 5" opacity="0.8"/>
<line x1="467.5" y1="9" x2="467.5" y2="427" stroke="#7dfc7d" stroke-dasharray="1 5"/>
<line x1="467.5" y1="8" x2="467.5" y2="427" stroke="#7dfc7d" stroke-dasharray="3 3" opacity="0.8"/>
<line x1="466.5" y1="9" x2="466.5" y2="427" stroke="#7dfc7d" stroke-dasharray="1 5" opacity="0.8"/>
<line x1="468.5" y1="9" x2="468.5" y2="427" stroke="#7dfc7d" stroke-dasharray="1 5" opacity="0.8"/>
<line x1="467.5" y1="430" x2="467.5" y2="568" stroke="#7dfc7d" stroke-dasharray="1 5"/>
<line x1="467.5" y1="429" x2="467.5" y2="568" stroke="#7dfc7d" stroke-dasharray="3 3" opacity="0.8"/>
<line x1="466.5" y1="430" x2="466.5" y2="568" stroke="#7dfc7d" stroke-dasharray="1 5" opacity="0.8"/>
<line x1="468.5" y1="430" x2="468.5" y2="568" stroke="#7dfc7d" stroke-dasharray="1 5" opacity="0.8"/>
<line x1="467.5" y1="571" x2="467.5" y2="709" stroke="#7dfc7d" stroke-dasharray="1 5"/>
<line x1="467.5" y1="570" x2="467.5" y2="709" stroke="#7dfc7d" stroke-dasharray="3 3" opacity="0.8"/>
<line x1="466.5" y1="571" x2="466.5" y2="709" stroke="#7dfc7d" stroke-dasharray="1 5" opacity="0.8"/>
<line x1="468.5" y1="571" x2="468.5" y2="709" stroke="#7dfc7d" stroke-dasharray="1 5" opacity="0.8"/>
<line x1="540.5" y1="9" x2="540.5" y2="427" stroke="#7dfc7d" stroke-dasharray="1 5"/>
<line x1="540.5" y1="8" x2="540.5" y2="427" stroke="#7dfc7d" stroke-dasharray="3 3" opacity="0.8"/>
<line x1="539.5" y1="9" x2="539.5" y2="427" stroke="#7dfc7d" stroke-dasharray="1 5" opacity="0.8"/>
<line x1="541.5" y1="9" x2="541.5" y2="427" stroke="#7dfc7d" stroke-dasharray="1 5" opacity="0.8"/>
<line x1="540.5" y1="430" x2="540.5" y2="568" stroke="#7dfc7d" stroke-dasharray="1 5"/>
<line x1="540.5" y1="429" x2="540.5" y2="568" stroke="#7dfc7d" stroke-dasharray="3 3" opacity="0.8"/>
<line x1="539.5" y1="430" x2="539.5" y2="568" stroke="#7dfc7d" stroke-dasharray="1 5" opacity="0.8"/>
<line x1="541.5" y1="430" x2="541.5" y2="568" stroke="#7dfc7d" stroke-dasharray="1 5" opacity="0.8"/>
<line x1="540.5" y1="571" x2="540.5" y2="709" stroke="#7dfc7d" stroke-dasharray="1 5"/>
<line x1="540.5" y1="570" x2="540.5" y2="709" stroke="#7dfc7d" stroke-dasharray="3 3" opacity="0.8"/>
<line x1="539.5" y1="571" x2="539.5" y2="709" stroke="#7dfc7d" stroke-dasharray="1 5" opacity="0.8"/>
<line x1="541.5" y1="571" x2="541.5" y2="709" stroke="#7dfc7d" stroke-dasharray="1 5" opacity="0.8"/>
<line x1="649.5" y1="9" x2="649.5" y2="427" stroke="#7dfc7d" stroke-dasharray="1 5"/>
<line x1="649.5" y1="8" x2="649.5" y2="427" stroke="#7dfc7d" stroke-dasharray="3 3" opacity="0.8"/>
<line x1="648.5" y1="9" x2="648.5" y2="427" stroke="#7dfc7d" stroke-dasharray="1 5" opacity="0.8"/>
<line x1="650.5" y1="9" x2="650.5" y2="427" stroke="#7dfc7d" stroke-dasharray="1 5" opacity="0.8"/>
<line x1="649.5" y1="430" x2="649.5" y2="568" stroke="#7dfc7d" stroke-dasharray="1 5"/>
<line x1="649.5" y1="429" x2="649.5" y2="568" stroke="#7dfc7d" stroke-dasharray="3 3" opacity="0.8"/>
<line x1="648.5" y1="430" x2="648.5" y2="568" stroke="#7dfc7d" stroke-dasharray="1 5" opacity="0.8"/>
<line x1="650.5" y1="430" x2="650.5" y2="568" stroke="#7dfc7d" stroke-dasharray="1 5" opacity="0.8"/>
<line x1="649.5" y1="571" x2="649.5" y2="709" stroke="#7dfc7d" stroke-dasharray="1 5"/>
<line x1="649.5" y1="570" x2="649.5" y2="709" stroke="#7dfc7d" stroke-dasharray="3 3" opacity="0.8"/>
<line x1="648.5" y1="571" x2="648.5" y2="709" stroke="#7dfc7d" stroke-dasharray="1 5" opacity="0.8"/>
<line x1="650.5" y1="571" x2="650.5" y2="709" stroke="#7dfc7d" stroke-dasharray="1 5" opacity="0.8"/>
<line x1="722.5" y1="9" x2="722.5" y2="427" stroke="#7dfc7d" stroke-dasharray="1 5"/>
<line x1="722.5" y1="8" x2="722.5" y2="427" stroke="#7dfc7d" stroke-dasharray="3 3" opacity="0.8"/>
<line x1="721.5" y1="9" x2="721.5" y2="427" stroke="#7dfc7d" stroke-dasharray="1 5" opacity="0.8"/>
<line x1="723.5" y1="9" x2="723.5" y2="427" stroke="#7dfc7d" stroke-dasharray="1 5" opacity="0.8"/>
<line x1="722.5" y1="430" x2="722.5" y2="568" stroke="#7dfc7d" stroke-dasharray="1 5"/>
<line x1="722.5" y1="429" x2="722.5" y2="568" stroke="#7dfc7d" stroke-dasharray="3 3" opacity="0.8"/>
<line x1="721.5" y1="430" x2="721.5" y2="568" stroke="#7dfc7d" stroke-dasharray="1 5" opacity="0.8"/>
<line x1="723.5" y1="430" x2="723.5" y2="568" stroke="#7dfc7d" stroke-dasharray="1 5" opacity="0.8"/>
<line x1="722.5" y1="571" x2="722.5" y2="709" stroke="#7dfc7d" stroke-dasharray="1 5"/>
<line x1="722.5" y1="570" x2="722.5" y2="709" stroke="#7dfc7d" stroke-dasharray="3 3" opacity="0.8"/>
<line x1="721.5" y1="571" x2="721.5" y2="709" stroke="#7dfc7d" stroke-dasharray="1 5" opacity="0.8"/>
<line x1="723.5" y1="571" x2="723.5" y2="709" stroke="#7dfc7d" stroke-dasharray="1 5" opacity="0.8"/>
<line x1="831.5" y1="9" x2="831.5" y2="427" stroke="#7dfc7d" stroke-dasharray="1 5"/>
<line x1="831.5" y1="8" x2="831.5" y2="427" stroke="#7dfc7d" stroke-dasharray="3 3" opacity="0.8"/>
<line x1="830.5" y1="9" x2="830.5" y2="427" stroke="#7dfc7d" stroke-dasharray="1 5" opacity="0.8"/>
<line x1="832.5" y1="9" x2="832.5" y2="427" stroke="#7dfc7d" stroke-dasharray="1 5" opacity="0.8"/>
<line x1="831.5" y1="430" x2="831.5" y2="568" stroke="#7dfc7d" stroke-dasharray="1 5"/>
<line x1="831.5" y1="429" x2="831.5" y2="568" stroke="#7dfc7d" stroke-dasharray="3 3" opacity="0.8"/>
<line x1="830.5" y1="430" x2="830.5" y2="568" stroke="#7dfc7d" stroke-dasharray="1 5" opacity="0.8"/>
<line x1="832.5" y1="430" x2="832.5" y2="568" stroke="#7dfc7d" stroke-dasharray="1 5" opacity="0.8"/>
<line x1="831.5" y1="571" x2="831.5" y2="709" stroke="#7dfc7d" stroke-dasharray="1 5"/>
<line x1="831.5" y1="570" x2="831.5" y2="709" stroke="#7dfc7d" stroke-dasharray="3 3" opacity="0.8"/>
<line x1="830.5" y1="571" x2="830.5" y2="709" stroke="#7dfc7d" stroke-dasharray="1 5" opacity="0.8"/>
<line x1="832.5" y1="571" x2="832.5" y2="709" stroke="#7dfc7d" stroke-dasharray="1 5" opacity="0.8"/>
</g>
<polyline points="31.4,305.4 40.0,302.6 55.0,298.4 61.0,299.3 66.8,300.6 83.5,300.4 91.0,299.8 103.6,299.3 113.6,297.2 127.0,294.2 140.4,290.9 152.0,286.7 158.7,283.0 164.0,278.0 167.0,274.0 170.0,271.5 176.0,265.0 182.0,257.5 188.0,252.5 200.0,240.3 212.0,230.0 225.0,218.5 237.0,210.0 249.0,204.3 261.0,197.3 273.0,189.8 285.0,179.3 297.0,166.7 310.0,161.0 322.0,158.4 330.0,156.6 335.0,155.3 341.7,150.3 348.4,146.1 358.4,141.9 370.1,136.1 381.8,129.4 391.9,123.5 403.6,116.0 413.6,109.6 422.0,106.5 432.0,105.1 443.7,101.0 455.4,98.4 467.1,90.9 477.1,83.4 483.8,80.0 492.2,77.6 498.0,75.0 503.0,72.5 510.0,72.0 516.0,73.0 528.0,75.0 540.0,76.0 552.0,77.5 558.0,80.0 564.0,83.0 570.0,83.0 576.0,81.7 589.0,79.0 601.0,77.1 615.0,77.1 626.7,74.3 640.1,71.3 650.2,70.1 666.9,70.1 673.6,69.3 683.6,71.3 690.3,70.4 697.8,69.3 708.7,79.3 722.0,91.6 728.0,97.3 734.0,103.2 737.1,106.0 746.3,117.2 752.0,118.6 757.1,119.4 764.0,115.4 767.2,113.6 771.0,110.5 783.0,103.7 795.0,103.0 807.0,100.9 819.0,96.4 831.0,93.0 843.0,91.3 856.0,89.0" fill="none" stroke="#ff0000" stroke-width="1" shape-rendering="crispEdges"/>
<polyline points="31.4,366.6 40.0,365.6 56.0,364.0 66.8,359.4 78.5,358.3 96.9,355.8 103.6,355.6 118.6,356.1 125.3,357.4 142.0,356.9 152.0,355.6 158.7,357.3 175.5,361.6 185.0,362.5 205.0,362.3 221.8,360.7 243.5,359.5 258.6,357.8 280.3,355.7 297.0,354.0 302.0,351.1 308.7,347.0 322.1,336.9 335.5,326.9 348.0,316.9 358.0,308.5 370.0,300.0 382.0,291.0 394.0,281.0 407.0,272.5 419.0,266.5 425.3,263.7 431.0,260.0 443.7,253.7 455.4,248.3 467.1,244.5 478.8,240.3 487.1,233.6 492.0,230.5 498.0,227.0 504.0,223.5 516.0,213.5 528.0,209.6 540.0,207.6 552.0,203.8 558.0,197.6 564.0,191.8 570.0,192.0 576.0,193.4 589.0,198.8 601.0,205.0 613.0,209.0 625.0,217.7 630.0,224.0 637.0,232.6 649.5,243.5 661.0,254.0 673.0,263.5 680.0,268.5 686.0,272.0 692.0,278.6 698.0,290.0 704.0,292.0 710.0,293.0 716.0,291.6 722.0,290.0 734.0,283.6 746.0,277.8 758.0,275.0 766.5,277.3 781.5,281.5 795.3,282.3 804.0,283.0 814.0,282.3 829.0,281.8 848.5,281.0 849.5,280.4 856.0,280.2" fill="none" stroke="#ff0000" stroke-width="1" shape-rendering="crispEdges"/>
<polyline points="31.4,336.9 45.0,334.4 61.8,330.5 75.2,328.5 96.9,327.7 110.3,326.8 123.6,324.8 137.0,323.5 153.7,321.5 165.4,317.6 177.1,313.1 180.0,311.9 193.4,304.3 206.7,298.5 221.8,291.0 235.2,286.0 249.4,282.3 260.2,277.6 272.0,272.6 283.6,266.7 295.3,260.9 307.0,255.0 317.0,250.0 330.0,242.8 343.4,233.6 356.7,225.8 368.4,218.2 380.2,211.0 391.9,203.2 403.6,195.2 417.0,188.5 428.6,183.5 440.3,179.6 452.0,175.1 463.7,169.3 475.4,162.6 487.1,156.4 497.2,151.7 504.0,148.0 516.0,143.0 528.0,142.0 540.0,141.0 552.0,139.0 564.0,137.0 576.0,137.0 589.0,139.0 600.0,141.5 615.0,143.6 626.7,147.0 631.7,149.6 640.0,153.4 650.0,158.8 661.8,164.8 673.5,168.8 686.8,174.3 696.9,181.0 708.6,186.4 717.0,188.5 722.0,190.5 728.6,193.0 737.0,194.4 745.3,197.2 757.0,197.2 768.8,196.0 777.1,193.6 782.1,192.4 795.5,193.0 807.0,192.0 813.0,190.0 819.0,189.0 831.0,187.3 843.0,186.5 856.0,185.3" fill="none" stroke="#ff0000" stroke-width="1" stroke-dasharray="3 3" shape-rendering="crispEdges"/>
<g stroke="#000" stroke-width="1" shape-rendering="crispEdges">
<line x1="31.5" y1="305" x2="31.5" y2="317"/>
<line x1="27.0" y1="314" x2="36.0" y2="314" stroke-width="2"/>
<line x1="43.5" y1="308" x2="43.5" y2="317"/>
<rect x="39.5" y="310.5" width="8" height="2.0" fill="#fff"/>
<line x1="51.0" y1="307.5" x2="60.0" y2="307.5"/>
<line x1="67.5" y1="318" x2="67.5" y2="334"/>
<rect x="63.5" y="317.5" width="8" height="12.0" fill="#ff0000"/>
<line x1="79.5" y1="319" x2="79.5" y2="336"/>
<rect x="75.5" y="325.5" width="8" height="3.0" fill="#fff"/>
<line x1="91.5" y1="314" x2="91.5" y2="327"/>
<rect x="87.5" y="318.5" width="8" height="7.0" fill="#fff"/>
<line x1="103.5" y1="310" x2="103.5" y2="333"/>
<rect x="99.5" y="318.5" width="8" height="8.0" fill="#ff0000"/>
<line x1="115.5" y1="311" x2="115.5" y2="327"/>
<rect x="111.5" y="313.5" width="8" height="12.0" fill="#fff"/>
<line x1="128.5" y1="294" x2="128.5" y2="318"/>
<rect x="124.5" y="298.5" width="8" height="15.0" fill="#fff"/>
<line x1="140.5" y1="269" x2="140.5" y2="300"/>
<rect x="136.5" y="294.5" width="8" height="4.0" fill="#fff"/>
<line x1="152.5" y1="286" x2="152.5" y2="301"/>
<rect x="148.5" y="292.5" width="8" height="2.0" fill="#fff"/>
<line x1="164.5" y1="261" x2="164.5" y2="299"/>
<rect x="160.5" y="271.5" width="8" height="21.0" fill="#fff"/>
<line x1="176.5" y1="249" x2="176.5" y2="285"/>
<rect x="172.5" y="251.5" width="8" height="19.0" fill="#fff"/>
<line x1="188.5" y1="237" x2="188.5" y2="255"/>
<rect x="184.5" y="242.5" width="8" height="9.0" fill="#fff"/>
<line x1="200.5" y1="229" x2="200.5" y2="243"/>
<rect x="196.5" y="230.5" width="8" height="12.0" fill="#fff"/>
<line x1="212.5" y1="224" x2="212.5" y2="239"/>
<line x1="208.0" y1="231" x2="217.0" y2="231" stroke-width="2"/>
<line x1="225.5" y1="218" x2="225.5" y2="237"/>
<rect x="221.5" y="221.5" width="8" height="9.0" fill="#fff"/>
<line x1="233.0" y1="218.5" x2="242.0" y2="218.5"/>
<line x1="249.5" y1="224" x2="249.5" y2="254"/>
<rect x="245.5" y="234.5" width="8" height="15.0" fill="#fff"/>
<line x1="261.5" y1="215" x2="261.5" y2="254"/>
<rect x="257.5" y="216.5" width="8" height="17.0" fill="#fff"/>
<line x1="273.5" y1="209" x2="273.5" y2="229"/>
<rect x="269.5" y="214.5" width="8" height="2.0" fill="#fff"/>
<line x1="285.5" y1="192" x2="285.5" y2="220"/>
<rect x="281.5" y="195.5" width="8" height="19.0" fill="#fff"/>
<line x1="297.5" y1="178" x2="297.5" y2="201"/>
<rect x="293.5" y="182.5" width="8" height="13.0" fill="#fff"/>
<line x1="310.5" y1="173" x2="310.5" y2="199"/>
<rect x="306.5" y="182.5" width="8" height="5.0" fill="#ff0000"/>
<line x1="322.5" y1="186" x2="322.5" y2="214"/>
<rect x="318.5" y="188.5" width="8" height="24.0" fill="#ff0000"/>
<line x1="334.5" y1="187" x2="334.5" y2="227"/>
<rect x="330.5" y="189.5" width="8" height="24.0" fill="#fff"/>
<line x1="346.5" y1="136" x2="346.5" y2="200"/>
<rect x="342.5" y="146.5" width="8" height="43.0" fill="#fff"/>
<line x1="358.5" y1="142" x2="358.5" y2="168"/>
<rect x="354.5" y="145.5" width="8" height="15.0" fill="#ff0000"/>
<line x1="370.5" y1="139" x2="370.5" y2="161"/>
<rect x="366.5" y="156.5" width="8" height="5.0" fill="#fff"/>
<line x1="382.5" y1="124" x2="382.5" y2="156"/>
<rect x="378.5" y="133.5" width="8" height="22.0" fill="#fff"/>
<line x1="394.5" y1="124" x2="394.5" y2="137"/>
<rect x="390.5" y="124.5" width="8" height="9.0" fill="#fff"/>
<line x1="407.5" y1="116" x2="407.5" y2="132"/>
<rect x="403.5" y="121.5" width="8" height="3.0" fill="#fff"/>
<line x1="415.0" y1="124.5" x2="424.0" y2="124.5"/>
<line x1="431.5" y1="140" x2="431.5" y2="157"/>
<rect x="427.5" y="151.5" width="8" height="5.0" fill="#ff0000"/>
<line x1="443.5" y1="128" x2="443.5" y2="162"/>
<rect x="439.5" y="135.5" width="8" height="21.0" fill="#fff"/>
<line x1="455.5" y1="124" x2="455.5" y2="138"/>
<rect x="451.5" y="130.5" width="8" height="6.0" fill="#fff"/>
<line x1="467.5" y1="104" x2="467.5" y2="134"/>
<rect x="463.5" y="105.5" width="8" height="25.0" fill="#fff"/>
<line x1="479.5" y1="92" x2="479.5" y2="108"/>
<rect x="475.5" y="99.5" width="8" height="6.0" fill="#fff"/>
<line x1="492.5" y1="84" x2="492.5" y2="102"/>
<rect x="488.5" y="94.5" width="8" height="6.0" fill="#fff"/>
<line x1="504.5" y1="82" x2="504.5" y2="94"/>
<rect x="500.5" y="88.5" width="8" height="6.0" fill="#fff"/>
<line x1="516.5" y1="85" x2="516.5" y2="138"/>
<rect x="512.5" y="88.5" width="8" height="40.0" fill="#ff0000"/>
<line x1="528.5" y1="106" x2="528.5" y2="185"/>
<rect x="524.5" y="128.5" width="8" height="44.0" fill="#ff0000"/>
<line x1="540.5" y1="159" x2="540.5" y2="198"/>
<rect x="536.5" y="168.5" width="8" height="4.0" fill="#fff"/>
<line x1="552.5" y1="153" x2="552.5" y2="168"/>
<rect x="548.5" y="159.5" width="8" height="9.0" fill="#fff"/>
<line x1="564.5" y1="136" x2="564.5" y2="166"/>
<rect x="560.5" y="152.5" width="8" height="8.0" fill="#fff"/>
<line x1="576.5" y1="151" x2="576.5" y2="212"/>
<rect x="572.5" y="151.5" width="8" height="46.0" fill="#ff0000"/>
<line x1="589.5" y1="186" x2="589.5" y2="208"/>
<rect x="585.5" y="190.5" width="8" height="7.0" fill="#fff"/>
<line x1="597.0" y1="193.5" x2="606.0" y2="193.5"/>
<line x1="613.5" y1="178" x2="613.5" y2="197"/>
<rect x="609.5" y="180.5" width="8" height="3.0" fill="#ff0000"/>
<line x1="625.5" y1="176" x2="625.5" y2="216"/>
<rect x="621.5" y="183.5" width="8" height="24.0" fill="#ff0000"/>
<line x1="637.5" y1="208" x2="637.5" y2="236"/>
<rect x="633.5" y="208.5" width="8" height="24.0" fill="#ff0000"/>
<line x1="649.5" y1="230" x2="649.5" y2="264"/>
<rect x="645.5" y="233.5" width="8" height="10.0" fill="#ff0000"/>
<line x1="661.5" y1="231" x2="661.5" y2="250"/>
<rect x="657.5" y="242.5" width="8" height="3.0" fill="#ff0000"/>
<line x1="673.5" y1="232" x2="673.5" y2="252"/>
<rect x="669.5" y="239.5" width="8" height="5.0" fill="#fff"/>
<line x1="686.5" y1="211" x2="686.5" y2="261"/>
<rect x="682.5" y="230.5" width="8" height="9.0" fill="#fff"/>
<line x1="698.5" y1="230" x2="698.5" y2="305"/>
<rect x="694.5" y="230.5" width="8" height="59.0" fill="#ff0000"/>
<line x1="710.5" y1="211" x2="710.5" y2="295"/>
<rect x="706.5" y="220.5" width="8" height="69.0" fill="#fff"/>
<line x1="722.5" y1="178" x2="722.5" y2="224"/>
<rect x="718.5" y="182.5" width="8" height="38.0" fill="#fff"/>
<line x1="734.5" y1="156" x2="734.5" y2="187"/>
<rect x="730.5" y="157.5" width="8" height="24.0" fill="#fff"/>
<line x1="746.5" y1="139" x2="746.5" y2="158"/>
<rect x="742.5" y="146.5" width="8" height="11.0" fill="#fff"/>
<line x1="758.5" y1="128" x2="758.5" y2="153"/>
<rect x="754.5" y="139.5" width="8" height="8.0" fill="#fff"/>
<line x1="771.5" y1="112" x2="771.5" y2="139"/>
<rect x="767.5" y="120.5" width="8" height="18.0" fill="#fff"/>
<line x1="779.0" y1="124.5" x2="788.0" y2="124.5"/>
<line x1="795.5" y1="149" x2="795.5" y2="171"/>
<line x1="791.0" y1="163" x2="800.0" y2="163" stroke-width="2"/>
<line x1="807.5" y1="132" x2="807.5" y2="167"/>
<rect x="803.5" y="134.5" width="8" height="29.0" fill="#fff"/>
<line x1="819.5" y1="131" x2="819.5" y2="151"/>
<rect x="815.5" y="135.5" width="8" height="10.0" fill="#ff0000"/>
<line x1="831.5" y1="143" x2="831.5" y2="180"/>
<rect x="827.5" y="146.5" width="8" height="11.0" fill="#ff0000"/>
<line x1="843.5" y1="151" x2="843.5" y2="169"/>
<rect x="839.5" y="157.5" width="8" height="5.0" fill="#ff0000"/>
<line x1="855.5" y1="149" x2="855.5" y2="170"/>
<rect x="851.5" y="160.5" width="8" height="3.0" fill="#fff"/>
</g>
<rect x="24" y="427" width="922" height="3" fill="#fff"/>
<rect x="24" y="568" width="922" height="3" fill="#fff"/>
<g shape-rendering="crispEdges" fill="#808080">
<rect x="26" y="492" width="11" height="2"/>
<rect x="38" y="486" width="11" height="8"/>
<rect x="50" y="479" width="11" height="15"/>
<rect x="74" y="488" width="11" height="6"/>
<rect x="86" y="484" width="11" height="10"/>
<rect x="98" y="484" width="11" height="10"/>
<rect x="110" y="484" width="11" height="10"/>
<rect x="123" y="479" width="11" height="15"/>
<rect x="135" y="486" width="11" height="8"/>
<rect x="147" y="489" width="11" height="5"/>
<rect x="159" y="479" width="11" height="15"/>
<rect x="171" y="472" width="11" height="22"/>
<rect x="183" y="470" width="11" height="24"/>
<rect x="195" y="467" width="11" height="27"/>
<rect x="207" y="460" width="11" height="34"/>
<rect x="220" y="458" width="11" height="36"/>
<rect x="232" y="459" width="11" height="35"/>
<rect x="244" y="462" width="11" height="32"/>
<rect x="256" y="460" width="11" height="34"/>
<rect x="268" y="464" width="11" height="30"/>
<rect x="280" y="459" width="11" height="35"/>
<rect x="292" y="455" width="11" height="39"/>
<rect x="305" y="464" width="11" height="30"/>
<rect x="317" y="480" width="11" height="14"/>
<rect x="329" y="475" width="11" height="19"/>
<rect x="341" y="464" width="11" height="30"/>
<rect x="353" y="469" width="11" height="25"/>
<rect x="365" y="471" width="11" height="23"/>
<rect x="377" y="464" width="11" height="30"/>
<rect x="389" y="455" width="11" height="39"/>
<rect x="402" y="461" width="11" height="33"/>
<rect x="414" y="462" width="11" height="32"/>
<rect x="426" y="480" width="11" height="14"/>
<rect x="438" y="477" width="11" height="17"/>
<rect x="450" y="474" width="11" height="20"/>
<rect x="462" y="456" width="11" height="38"/>
<rect x="474" y="462" width="11" height="32"/>
<rect x="487" y="476" width="11" height="18"/>
<rect x="499" y="469" width="11" height="25"/>
<rect x="511" y="484" width="11" height="10"/>
<rect x="523" y="493" width="11" height="15"/>
<rect x="535" y="493" width="11" height="17"/>
<rect x="547" y="493" width="11" height="15"/>
<rect x="559" y="493" width="11" height="11"/>
<rect x="571" y="493" width="11" height="15"/>
<rect x="584" y="493" width="11" height="21"/>
<rect x="596" y="493" width="11" height="23"/>
<rect x="608" y="493" width="11" height="29"/>
<rect x="620" y="493" width="11" height="39"/>
<rect x="632" y="493" width="11" height="49"/>
<rect x="644" y="493" width="11" height="55"/>
<rect x="656" y="493" width="11" height="41"/>
<rect x="668" y="493" width="11" height="25"/>
<rect x="681" y="493" width="11" height="23"/>
<rect x="693" y="493" width="11" height="47"/>
<rect x="705" y="493" width="11" height="25"/>
<rect x="717" y="488" width="11" height="6"/>
<rect x="729" y="482" width="11" height="12"/>
<rect x="741" y="477" width="11" height="17"/>
<rect x="753" y="478" width="11" height="16"/>
<rect x="766" y="464" width="11" height="30"/>
<rect x="778" y="456" width="11" height="38"/>
<rect x="790" y="466" width="11" height="28"/>
<rect x="802" y="455" width="11" height="39"/>
<rect x="814" y="461" width="11" height="33"/>
<rect x="826" y="468" width="11" height="26"/>
<rect x="838" y="450" width="11" height="44"/>
<rect x="850" y="473" width="11" height="21"/>
<rect x="25" y="493" width="921" height="1" fill="#707070"/>
</g>
<line x1="25" y1="657.5" x2="946" y2="657.5" stroke="#ff0000" stroke-width="1" shape-rendering="crispEdges"/>
<polyline points="31.3,590.0 49.0,593.2 72.6,598.2 96.4,603.6 103.3,605.3 120.2,609.5 127.1,610.3 144.6,612.0 150.0,613.5 164.0,615.0 176.0,614.0 200.0,611.5 225.0,609.0 249.0,607.0 285.0,605.0 310.0,603.0 334.0,603.0 358.0,602.0 382.0,601.0 407.0,598.5 419.0,597.0 431.0,598.0 455.0,598.5 479.0,599.0 504.0,599.0 516.0,600.0 528.0,602.0 540.0,606.0 552.0,609.0 564.0,613.0 576.0,617.0 589.0,622.0 601.0,627.0 613.0,633.0 625.0,638.0 637.0,643.5 649.0,648.5 661.0,655.0 673.0,659.0 685.0,663.0 697.0,668.0 709.0,671.0 721.0,673.0 733.0,671.5 745.0,670.0 756.0,668.0 766.0,665.0 778.0,661.5 794.0,657.0 806.0,653.5 818.0,650.5 830.0,648.5 842.0,647.0 855.0,645.0" fill="none" stroke="#000080" stroke-width="1" clip-path="url(#dashclip)" shape-rendering="crispEdges"/>
<polyline points="31.0,598.5 43.0,600.5 55.0,602.0 67.0,605.5 79.0,609.0 91.0,613.0 103.0,616.0 115.0,618.5 128.0,618.5 140.0,618.5 150.0,620.0 164.0,617.0 176.0,614.0 188.0,610.5 200.0,607.0 212.0,605.5 225.0,603.5 237.0,602.0 249.0,604.0 261.0,603.5 273.0,603.0 285.0,601.5 297.0,600.0 310.0,600.5 322.0,603.0 334.0,604.0 346.0,601.0 358.0,599.0 370.0,598.5 382.0,596.0 394.0,595.0 407.0,593.0 419.0,593.0 426.0,595.5 431.0,598.0 443.0,599.5 455.0,601.5 461.0,601.0 467.0,600.5 479.0,600.0 492.0,599.0 504.0,598.0 516.0,602.0 522.0,606.0 528.0,611.5 540.0,620.0 552.0,625.0 564.0,628.5 576.0,636.5 589.0,643.0 601.0,648.5 613.0,652.0 625.0,657.0 637.0,665.0 649.0,671.0 661.0,676.5 673.0,679.0 685.0,680.0 697.0,688.0 709.0,685.0 721.0,678.5 733.0,671.0 745.0,662.0 754.0,657.0 766.0,651.0 782.0,643.5 794.0,643.0 806.0,640.0 818.0,639.0 830.0,640.0 842.0,642.0 855.0,643.5" fill="none" stroke="#ff0000" stroke-width="1" shape-rendering="crispEdges"/>
<line x1="72" y1="571.6" x2="370.5" y2="590.9" stroke="#ff0000" stroke-width="2.2"/>
<g shape-rendering="crispEdges" stroke="#a6c0a6" fill="none">
<line x1="24.5" y1="8" x2="24.5" y2="710"/>
<line x1="24" y1="8.5" x2="948" y2="8.5"/>
<line x1="24" y1="709.5" x2="948" y2="709.5"/>
<line x1="947.5" y1="8" x2="947.5" y2="710"/>
</g>
<g shape-rendering="crispEdges" stroke="#787878">
<line x1="949" y1="424.5" x2="951" y2="424.5"/>
<line x1="949" y1="420.5" x2="951" y2="420.5"/>
<line x1="949" y1="416.5" x2="951" y2="416.5"/>
<line x1="949" y1="413.5" x2="951" y2="413.5"/>
<line x1="949" y1="409.5" x2="951" y2="409.5"/>
<line x1="949" y1="405.5" x2="953" y2="405.5"/>
<line x1="949" y1="401.5" x2="951" y2="401.5"/>
<line x1="949" y1="397.5" x2="951" y2="397.5"/>
<line x1="949" y1="394.5" x2="951" y2="394.5"/>
<line x1="949" y1="390.5" x2="951" y2="390.5"/>
<line x1="949" y1="386.5" x2="953" y2="386.5"/>
<line x1="949" y1="382.5" x2="951" y2="382.5"/>
<line x1="949" y1="378.5" x2="951" y2="378.5"/>
<line x1="949" y1="375.5" x2="951" y2="375.5"/>
<line x1="949" y1="371.5" x2="951" y2="371.5"/>
<line x1="949" y1="367.5" x2="953" y2="367.5"/>
<line x1="949" y1="363.5" x2="951" y2="363.5"/>
<line x1="949" y1="359.5" x2="951" y2="359.5"/>
<line x1="949" y1="356.5" x2="951" y2="356.5"/>
<line x1="949" y1="352.5" x2="951" y2="352.5"/>
<line x1="949" y1="348.5" x2="953" y2="348.5"/>
<line x1="949" y1="344.5" x2="951" y2="344.5"/>
<line x1="949" y1="340.5" x2="951" y2="340.5"/>
<line x1="949" y1="337.5" x2="951" y2="337.5"/>
<line x1="949" y1="333.5" x2="951" y2="333.5"/>
<line x1="949" y1="329.5" x2="953" y2="329.5"/>
<line x1="949" y1="325.5" x2="951" y2="325.5"/>
<line x1="949" y1="321.5" x2="951" y2="321.5"/>
<line x1="949" y1="317.5" x2="951" y2="317.5"/>
<line x1="949" y1="313.5" x2="951" y2="313.5"/>
<line x1="949" y1="309.5" x2="953" y2="309.5"/>
<line x1="949" y1="305.5" x2="951" y2="305.5"/>
<line x1="949" y1="301.5" x2="951" y2="301.5"/>
<line x1="949" y1="298.5" x2="951" y2="298.5"/>
<line x1="949" y1="294.5" x2="951" y2="294.5"/>
<line x1="949" y1="290.5" x2="953" y2="290.5"/>
<line x1="949" y1="286.5" x2="951" y2="286.5"/>
<line x1="949" y1="282.5" x2="951" y2="282.5"/>
<line x1="949" y1="279.5" x2="951" y2="279.5"/>
<line x1="949" y1="275.5" x2="951" y2="275.5"/>
<line x1="949" y1="271.5" x2="953" y2="271.5"/>
<line x1="949" y1="267.5" x2="951" y2="267.5"/>
<line x1="949" y1="263.5" x2="951" y2="263.5"/>
<line x1="949" y1="260.5" x2="951" y2="260.5"/>
<line x1="949" y1="256.5" x2="951" y2="256.5"/>
<line x1="949" y1="252.5" x2="953" y2="252.5"/>
<line x1="949" y1="248.5" x2="951" y2="248.5"/>
<line x1="949" y1="244.5" x2="951" y2="244.5"/>
<line x1="949" y1="241.5" x2="951" y2="241.5"/>
<line x1="949" y1="237.5" x2="951" y2="237.5"/>
<line x1="949" y1="233.5" x2="953" y2="233.5"/>
<line x1="949" y1="229.5" x2="951" y2="229.5"/>
<line x1="949" y1="225.5" x2="951" y2="225.5"/>
<line x1="949" y1="222.5" x2="951" y2="222.5"/>
<line x1="949" y1="218.5" x2="951" y2="218.5"/>
<line x1="949" y1="214.5" x2="953" y2="214.5"/>
<line x1="949" y1="210.5" x2="951" y2="210.5"/>
<line x1="949" y1="206.5" x2="951" y2="206.5"/>
<line x1="949" y1="203.5" x2="951" y2="203.5"/>
<line x1="949" y1="199.5" x2="951" y2="199.5"/>
<line x1="949" y1="195.5" x2="953" y2="195.5"/>
<line x1="949" y1="191.5" x2="951" y2="191.5"/>
<line x1="949" y1="187.5" x2="951" y2="187.5"/>
<line x1="949" y1="183.5" x2="951" y2="183.5"/>
<line x1="949" y1="179.5" x2="951" y2="179.5"/>
<line x1="949" y1="175.5" x2="953" y2="175.5"/>
<line x1="949" y1="171.5" x2="951" y2="171.5"/>
<line x1="949" y1="167.5" x2="951" y2="167.5"/>
<line x1="949" y1="164.5" x2="951" y2="164.5"/>
<line x1="949" y1="160.5" x2="951" y2="160.5"/>
<line x1="949" y1="156.5" x2="953" y2="156.5"/>
<line x1="949" y1="152.5" x2="951" y2="152.5"/>
<line x1="949" y1="148.5" x2="951" y2="148.5"/>
<line x1="949" y1="145.5" x2="951" y2="145.5"/>
<line x1="949" y1="141.5" x2="951" y2="141.5"/>
<line x1="949" y1="137.5" x2="953" y2="137.5"/>
<line x1="949" y1="133.5" x2="951" y2="133.5"/>
<line x1="949" y1="129.5" x2="951" y2="129.5"/>
<line x1="949" y1="126.5" x2="951" y2="126.5"/>
<line x1="949" y1="122.5" x2="951" y2="122.5"/>
<line x1="949" y1="118.5" x2="953" y2="118.5"/>
<line x1="949" y1="114.5" x2="951" y2="114.5"/>
<line x1="949" y1="110.5" x2="951" y2="110.5"/>
<line x1="949" y1="107.5" x2="951" y2="107.5"/>
<line x1="949" y1="103.5" x2="951" y2="103.5"/>
<line x1="949" y1="99.5" x2="953" y2="99.5"/>
<line x1="949" y1="95.5" x2="951" y2="95.5"/>
<line x1="949" y1="91.5" x2="951" y2="91.5"/>
<line x1="949" y1="88.5" x2="951" y2="88.5"/>
<line x1="949" y1="84.5" x2="951" y2="84.5"/>
<line x1="949" y1="80.5" x2="953" y2="80.5"/>
<line x1="949" y1="76.5" x2="951" y2="76.5"/>
<line x1="949" y1="72.5" x2="951" y2="72.5"/>
<line x1="949" y1="69.5" x2="951" y2="69.5"/>
<line x1="949" y1="65.5" x2="951" y2="65.5"/>
<line x1="949" y1="61.5" x2="953" y2="61.5"/>
<line x1="949" y1="57.5" x2="951" y2="57.5"/>
<line x1="949" y1="53.5" x2="951" y2="53.5"/>
<line x1="949" y1="50.5" x2="951" y2="50.5"/>
<line x1="949" y1="46.5" x2="951" y2="46.5"/>
<line x1="949" y1="42.5" x2="951" y2="42.5"/>
<line x1="949" y1="38.5" x2="951" y2="38.5"/>
<line x1="949" y1="34.5" x2="951" y2="34.5"/>
<line x1="949" y1="31.5" x2="951" y2="31.5"/>
<line x1="949" y1="27.5" x2="951" y2="27.5"/>
<line x1="949" y1="567.5" x2="951" y2="567.5"/>
<line x1="949" y1="564.5" x2="951" y2="564.5"/>
<line x1="949" y1="560.5" x2="953" y2="560.5"/>
<line x1="949" y1="557.5" x2="951" y2="557.5"/>
<line x1="949" y1="554.5" x2="951" y2="554.5"/>
<line x1="949" y1="550.5" x2="951" y2="550.5"/>
<line x1="949" y1="547.5" x2="953" y2="547.5"/>
<line x1="949" y1="544.5" x2="951" y2="544.5"/>
<line x1="949" y1="540.5" x2="951" y2="540.5"/>
<line x1="949" y1="537.5" x2="951" y2="537.5"/>
<line x1="949" y1="534.5" x2="953" y2="534.5"/>
<line x1="949" y1="530.5" x2="951" y2="530.5"/>
<line x1="949" y1="527.5" x2="951" y2="527.5"/>
<line x1="949" y1="523.5" x2="951" y2="523.5"/>
<line x1="949" y1="520.5" x2="953" y2="520.5"/>
<line x1="949" y1="517.5" x2="951" y2="517.5"/>
<line x1="949" y1="513.5" x2="951" y2="513.5"/>
<line x1="949" y1="510.5" x2="951" y2="510.5"/>
<line x1="949" y1="507.5" x2="953" y2="507.5"/>
<line x1="949" y1="503.5" x2="951" y2="503.5"/>
<line x1="949" y1="500.5" x2="951" y2="500.5"/>
<line x1="949" y1="497.5" x2="951" y2="497.5"/>
<line x1="949" y1="493.5" x2="953" y2="493.5"/>
<line x1="949" y1="490.5" x2="951" y2="490.5"/>
<line x1="949" y1="486.5" x2="951" y2="486.5"/>
<line x1="949" y1="483.5" x2="951" y2="483.5"/>
<line x1="949" y1="480.5" x2="953" y2="480.5"/>
<line x1="949" y1="476.5" x2="951" y2="476.5"/>
<line x1="949" y1="473.5" x2="951" y2="473.5"/>
<line x1="949" y1="470.5" x2="951" y2="470.5"/>
<line x1="949" y1="466.5" x2="953" y2="466.5"/>
<line x1="949" y1="463.5" x2="951" y2="463.5"/>
<line x1="949" y1="460.5" x2="951" y2="460.5"/>
<line x1="949" y1="456.5" x2="951" y2="456.5"/>
<line x1="949" y1="453.5" x2="951" y2="453.5"/>
<line x1="949" y1="449.5" x2="951" y2="449.5"/>
<line x1="949" y1="708.5" x2="951" y2="708.5"/>
<line x1="949" y1="705.5" x2="951" y2="705.5"/>
<line x1="949" y1="702.5" x2="951" y2="702.5"/>
<line x1="949" y1="699.5" x2="953" y2="699.5"/>
<line x1="949" y1="696.5" x2="951" y2="696.5"/>
<line x1="949" y1="694.5" x2="951" y2="694.5"/>
<line x1="949" y1="691.5" x2="951" y2="691.5"/>
<line x1="949" y1="688.5" x2="951" y2="688.5"/>
<line x1="949" y1="685.5" x2="953" y2="685.5"/>
<line x1="949" y1="683.5" x2="951" y2="683.5"/>
<line x1="949" y1="680.5" x2="951" y2="680.5"/>
<line x1="949" y1="677.5" x2="951" y2="677.5"/>
<line x1="949" y1="674.5" x2="951" y2="674.5"/>
<line x1="949" y1="671.5" x2="953" y2="671.5"/>
<line x1="949" y1="669.5" x2="951" y2="669.5"/>
<line x1="949" y1="666.5" x2="951" y2="666.5"/>
<line x1="949" y1="663.5" x2="951" y2="663.5"/>
<line x1="949" y1="660.5" x2="951" y2="660.5"/>
<line x1="949" y1="658.5" x2="953" y2="658.5"/>
<line x1="949" y1="655.5" x2="951" y2="655.5"/>
<line x1="949" y1="652.5" x2="951" y2="652.5"/>
<line x1="949" y1="649.5" x2="951" y2="649.5"/>
<line x1="949" y1="646.5" x2="951" y2="646.5"/>
<line x1="949" y1="644.5" x2="953" y2="644.5"/>
<line x1="949" y1="641.5" x2="951" y2="641.5"/>
<line x1="949" y1="638.5" x2="951" y2="638.5"/>
<line x1="949" y1="635.5" x2="951" y2="635.5"/>
<line x1="949" y1="633.5" x2="951" y2="633.5"/>
<line x1="949" y1="630.5" x2="953" y2="630.5"/>
<line x1="949" y1="627.5" x2="951" y2="627.5"/>
<line x1="949" y1="624.5" x2="951" y2="624.5"/>
<line x1="949" y1="621.5" x2="951" y2="621.5"/>
<line x1="949" y1="619.5" x2="951" y2="619.5"/>
<line x1="949" y1="616.5" x2="953" y2="616.5"/>
<line x1="949" y1="613.5" x2="951" y2="613.5"/>
<line x1="949" y1="610.5" x2="951" y2="610.5"/>
<line x1="949" y1="608.5" x2="951" y2="608.5"/>
<line x1="949" y1="605.5" x2="951" y2="605.5"/>
<line x1="949" y1="602.5" x2="951" y2="602.5"/>
<line x1="949" y1="599.5" x2="951" y2="599.5"/>
<line x1="949" y1="596.5" x2="951" y2="596.5"/>
<line x1="949" y1="594.5" x2="951" y2="594.5"/>
<line x1="949" y1="591.5" x2="951" y2="591.5"/>
<line x1="949" y1="588.5" x2="951" y2="588.5"/>
<line x1="31.5" y1="711" x2="31.5" y2="716"/>
<line x1="67.5" y1="711" x2="67.5" y2="716"/>
<line x1="103.5" y1="711" x2="103.5" y2="716"/>
<line x1="176.5" y1="711" x2="176.5" y2="716"/>
<line x1="249.5" y1="711" x2="249.5" y2="716"/>
<line x1="285.5" y1="711" x2="285.5" y2="716"/>
<line x1="358.5" y1="711" x2="358.5" y2="716"/>
<line x1="431.5" y1="711" x2="431.5" y2="716"/>
<line x1="467.5" y1="711" x2="467.5" y2="716"/>
<line x1="540.5" y1="711" x2="540.5" y2="716"/>
<line x1="613.5" y1="711" x2="613.5" y2="716"/>
<line x1="649.5" y1="711" x2="649.5" y2="716"/>
<line x1="722.5" y1="711" x2="722.5" y2="716"/>
<line x1="795.5" y1="711" x2="795.5" y2="716"/>
<line x1="831.5" y1="711" x2="831.5" y2="716"/>
<line x1="140.5" y1="711" x2="140.5" y2="713"/>
<line x1="152.5" y1="711" x2="152.5" y2="713"/>
<line x1="200.5" y1="711" x2="200.5" y2="713"/>
<line x1="212.5" y1="711" x2="212.5" y2="713"/>
<line x1="322.5" y1="711" x2="322.5" y2="713"/>
<line x1="334.5" y1="711" x2="334.5" y2="713"/>
<line x1="382.5" y1="711" x2="382.5" y2="713"/>
<line x1="394.5" y1="711" x2="394.5" y2="713"/>
<line x1="504.5" y1="711" x2="504.5" y2="713"/>
<line x1="516.5" y1="711" x2="516.5" y2="713"/>
<line x1="564.5" y1="711" x2="564.5" y2="713"/>
<line x1="576.5" y1="711" x2="576.5" y2="713"/>
<line x1="686.5" y1="711" x2="686.5" y2="713"/>
<line x1="698.5" y1="711" x2="698.5" y2="713"/>
<line x1="746.5" y1="711" x2="746.5" y2="713"/>
<line x1="758.5" y1="711" x2="758.5" y2="713"/>
</g>
<text x="954.8" y="409.9" fill="#000" stroke="#000" stroke-width="0.25" textLength="23.6" lengthAdjust="spacingAndGlyphs">7080</text>
<text x="954.8" y="390.9" fill="#000" stroke="#000" stroke-width="0.25" textLength="23.6" lengthAdjust="spacingAndGlyphs">7090</text>
<text x="954.8" y="371.9" fill="#000" stroke="#000" stroke-width="0.25" textLength="23.6" lengthAdjust="spacingAndGlyphs">7100</text>
<text x="954.8" y="352.9" fill="#000" stroke="#000" stroke-width="0.25" textLength="23.6" lengthAdjust="spacingAndGlyphs">7110</text>
<text x="954.8" y="333.9" fill="#000" stroke="#000" stroke-width="0.25" textLength="23.6" lengthAdjust="spacingAndGlyphs">7120</text>
<text x="954.8" y="313.9" fill="#000" stroke="#000" stroke-width="0.25" textLength="23.6" lengthAdjust="spacingAndGlyphs">7130</text>
<text x="954.8" y="294.9" fill="#000" stroke="#000" stroke-width="0.25" textLength="23.6" lengthAdjust="spacingAndGlyphs">7140</text>
<text x="954.8" y="275.9" fill="#000" stroke="#000" stroke-width="0.25" textLength="23.6" lengthAdjust="spacingAndGlyphs">7150</text>
<text x="954.8" y="256.9" fill="#000" stroke="#000" stroke-width="0.25" textLength="23.6" lengthAdjust="spacingAndGlyphs">7160</text>
<text x="954.8" y="237.9" fill="#000" stroke="#000" stroke-width="0.25" textLength="23.6" lengthAdjust="spacingAndGlyphs">7170</text>
<text x="954.8" y="218.9" fill="#000" stroke="#000" stroke-width="0.25" textLength="23.6" lengthAdjust="spacingAndGlyphs">7180</text>
<text x="954.8" y="199.9" fill="#000" stroke="#000" stroke-width="0.25" textLength="23.6" lengthAdjust="spacingAndGlyphs">7190</text>
<text x="954.8" y="179.9" fill="#000" stroke="#000" stroke-width="0.25" textLength="23.6" lengthAdjust="spacingAndGlyphs">7200</text>
<text x="954.8" y="160.9" fill="#000" stroke="#000" stroke-width="0.25" textLength="23.6" lengthAdjust="spacingAndGlyphs">7210</text>
<text x="954.8" y="141.9" fill="#000" stroke="#000" stroke-width="0.25" textLength="23.6" lengthAdjust="spacingAndGlyphs">7220</text>
<text x="954.8" y="122.9" fill="#000" stroke="#000" stroke-width="0.25" textLength="23.6" lengthAdjust="spacingAndGlyphs">7230</text>
<text x="954.8" y="103.9" fill="#000" stroke="#000" stroke-width="0.25" textLength="23.6" lengthAdjust="spacingAndGlyphs">7240</text>
<text x="954.8" y="84.9" fill="#000" stroke="#000" stroke-width="0.25" textLength="23.6" lengthAdjust="spacingAndGlyphs">7250</text>
<text x="954.8" y="65.9" fill="#000" stroke="#000" stroke-width="0.25" textLength="23.6" lengthAdjust="spacingAndGlyphs">7260</text>
<text x="950.6" y="21.2" fill="#000" stroke="#000" stroke-width="0.25" textLength="19.2" lengthAdjust="spacingAndGlyphs">EUR</text>
<text x="950.8" y="442.2" fill="#000" stroke="#000" stroke-width="0.25" textLength="23.2" lengthAdjust="spacingAndGlyphs">MOM</text>
<text x="954.8" y="470.9" fill="#000" stroke="#000" stroke-width="0.25" textLength="11.8" lengthAdjust="spacingAndGlyphs">40</text>
<text x="954.8" y="484.9" fill="#000" stroke="#000" stroke-width="0.25" textLength="11.8" lengthAdjust="spacingAndGlyphs">20</text>
<text x="954.8" y="497.9" fill="#000" stroke="#000" stroke-width="0.25" textLength="5.9" lengthAdjust="spacingAndGlyphs">0</text>
<text x="954.8" y="511.9" fill="#000" stroke="#000" stroke-width="0.25" textLength="15.6" lengthAdjust="spacingAndGlyphs">-20</text>
<text x="954.8" y="524.9" fill="#000" stroke="#000" stroke-width="0.25" textLength="15.6" lengthAdjust="spacingAndGlyphs">-40</text>
<text x="954.8" y="538.9" fill="#000" stroke="#000" stroke-width="0.25" textLength="15.6" lengthAdjust="spacingAndGlyphs">-60</text>
<text x="954.8" y="551.9" fill="#000" stroke="#000" stroke-width="0.25" textLength="15.6" lengthAdjust="spacingAndGlyphs">-80</text>
<text x="954.8" y="564.9" fill="#000" stroke="#000" stroke-width="0.25" textLength="21.4" lengthAdjust="spacingAndGlyphs">-100</text>
<text x="950.8" y="583" fill="#000" stroke="#000" stroke-width="0.25" textLength="28.5" lengthAdjust="spacingAndGlyphs">MACD</text>
<text x="954.8" y="620.9" fill="#000" stroke="#000" stroke-width="0.25" textLength="11.8" lengthAdjust="spacingAndGlyphs">15</text>
<text x="954.8" y="634.9" fill="#000" stroke="#000" stroke-width="0.25" textLength="11.8" lengthAdjust="spacingAndGlyphs">10</text>
<text x="954.8" y="648.9" fill="#000" stroke="#000" stroke-width="0.25" textLength="5.9" lengthAdjust="spacingAndGlyphs">5</text>
<text x="954.8" y="662.9" fill="#000" stroke="#000" stroke-width="0.25" textLength="5.9" lengthAdjust="spacingAndGlyphs">0</text>
<text x="954.8" y="675.9" fill="#000" stroke="#000" stroke-width="0.25" textLength="9.8" lengthAdjust="spacingAndGlyphs">-5</text>
<text x="954.8" y="689.9" fill="#000" stroke="#000" stroke-width="0.25" textLength="15.6" lengthAdjust="spacingAndGlyphs">-10</text>
<text x="954.8" y="703.9" fill="#000" stroke="#000" stroke-width="0.25" textLength="15.6" lengthAdjust="spacingAndGlyphs">-15</text>
<text x="30.2" y="729" fill="#000" stroke="#000" stroke-width="0.25" textLength="27.5" lengthAdjust="spacingAndGlyphs">21:00</text>
<text x="66.6" y="729" fill="#000" stroke="#000" stroke-width="0.25" textLength="8.5" lengthAdjust="spacingAndGlyphs">5.</text>
<text x="103.0" y="729" fill="#000" stroke="#000" stroke-width="0.25" textLength="27.5" lengthAdjust="spacingAndGlyphs">12:00</text>
<text x="175.8" y="729" fill="#000" stroke="#000" stroke-width="0.25" textLength="27.5" lengthAdjust="spacingAndGlyphs">18:00</text>
<text x="248.6" y="729" fill="#000" stroke="#000" stroke-width="0.25" textLength="14.5" lengthAdjust="spacingAndGlyphs">10.</text>
<text x="285.0" y="729" fill="#000" stroke="#000" stroke-width="0.25" textLength="27.5" lengthAdjust="spacingAndGlyphs">12:00</text>
<text x="357.8" y="729" fill="#000" stroke="#000" stroke-width="0.25" textLength="27.5" lengthAdjust="spacingAndGlyphs">18:00</text>
<text x="430.5" y="729" fill="#000" stroke="#000" stroke-width="0.25" textLength="14.5" lengthAdjust="spacingAndGlyphs">11.</text>
<text x="466.9" y="729" fill="#000" stroke="#000" stroke-width="0.25" textLength="27.5" lengthAdjust="spacingAndGlyphs">12:00</text>
<text x="539.7" y="729" fill="#000" stroke="#000" stroke-width="0.25" textLength="27.5" lengthAdjust="spacingAndGlyphs">18:00</text>
<text x="612.5" y="729" fill="#000" stroke="#000" stroke-width="0.25" textLength="14.5" lengthAdjust="spacingAndGlyphs">12.</text>
<text x="648.9" y="729" fill="#000" stroke="#000" stroke-width="0.25" textLength="27.5" lengthAdjust="spacingAndGlyphs">12:00</text>
<text x="721.7" y="729" fill="#000" stroke="#000" stroke-width="0.25" textLength="27.5" lengthAdjust="spacingAndGlyphs">18:00</text>
<text x="794.5" y="729" fill="#000" stroke="#000" stroke-width="0.25" textLength="14.5" lengthAdjust="spacingAndGlyphs">13.</text>
<text x="830.9" y="729" fill="#000" stroke="#000" stroke-width="0.25" textLength="27.5" lengthAdjust="spacingAndGlyphs">12:00</text>
<g fill="none" stroke="#000" shape-rendering="crispEdges"><rect x="30.5" y="14.5" width="6" height="5"/><line x1="33.5" y1="12" x2="33.5" y2="14"/><line x1="33.5" y1="20" x2="33.5" y2="22"/></g>
<g fill="#000">
<text x="41.6" y="22" textLength="5.8" lengthAdjust="spacingAndGlyphs" stroke="#000" stroke-width="0.25">F</text>
<text x="51.4" y="22" textLength="26.9" lengthAdjust="spacingAndGlyphs" stroke="#000" stroke-width="0.25">FDAX</text>
<text x="79.5" y="22" textLength="23.0" lengthAdjust="spacingAndGlyphs" stroke="#000" stroke-width="0.25">6/07</text>
<text x="105" y="22" textLength="29.3" lengthAdjust="spacingAndGlyphs" stroke="#000" stroke-width="0.25">,FDAX</text>
<text x="137.9" y="22" textLength="36.4" lengthAdjust="spacingAndGlyphs" stroke="#000" stroke-width="0.25">2007M,</text>
<text x="177.8" y="22" textLength="3.4" lengthAdjust="spacingAndGlyphs" stroke="#000" stroke-width="0.25">1</text>
<text x="186" y="22" textLength="32.3" lengthAdjust="spacingAndGlyphs" stroke="#000" stroke-width="0.25">Stunde</text>
<text x="223.1" y="22" textLength="3.1" lengthAdjust="spacingAndGlyphs" stroke="#000" stroke-width="0.25">-</text>
<text x="229.9" y="22" textLength="41.9" lengthAdjust="spacingAndGlyphs" stroke="#000" stroke-width="0.25">4/4/2007</text>
<text x="277" y="22" textLength="35.7" lengthAdjust="spacingAndGlyphs" stroke="#000" stroke-width="0.25">9:00:00</text>
<text x="318" y="22" textLength="13.1" lengthAdjust="spacingAndGlyphs" stroke="#000" stroke-width="0.25">PM</text>
<text x="335.2" y="22" textLength="3.1" lengthAdjust="spacingAndGlyphs" stroke="#000" stroke-width="0.25">-</text>
<text x="342.2" y="22" textLength="48.6" lengthAdjust="spacingAndGlyphs" stroke="#000" stroke-width="0.25">4/13/2007</text>
<text x="395.2" y="22" textLength="36.2" lengthAdjust="spacingAndGlyphs" stroke="#000" stroke-width="0.25">2:00:00</text>
<text x="436.1" y="22" textLength="13.2" lengthAdjust="spacingAndGlyphs" stroke="#000" stroke-width="0.25">PM</text>
<text x="453.2" y="22" textLength="3.1" lengthAdjust="spacingAndGlyphs" stroke="#000" stroke-width="0.25">-</text>
<text x="460.4" y="22" textLength="32.3" lengthAdjust="spacingAndGlyphs" stroke="#000" stroke-width="0.25">7208.5</text>
</g>
<g fill="none" stroke="#ff0000" stroke-width="1"><polyline points="28,27 33.5,37 39,27"/><polyline points="28,37 33.5,27 39,37"/></g>
<g fill="#ff0000">
<text x="41.9" y="36" textLength="18.1" lengthAdjust="spacingAndGlyphs" stroke="#ff0000" stroke-width="0.25">BBD</text>
<text x="63.9" y="36" textLength="31.9" lengthAdjust="spacingAndGlyphs" stroke="#ff0000" stroke-width="0.25">[Close,</text>
<text x="100.3" y="36" textLength="14.0" lengthAdjust="spacingAndGlyphs" stroke="#ff0000" stroke-width="0.25">20,</text>
<text x="118.6" y="36" textLength="9.7" lengthAdjust="spacingAndGlyphs" stroke="#ff0000" stroke-width="0.25">2]</text>
<text x="132.9" y="36" textLength="32.3" lengthAdjust="spacingAndGlyphs" stroke="#ff0000" stroke-width="0.25">Moving</text>
<text x="169.6" y="36" textLength="83.8" lengthAdjust="spacingAndGlyphs" stroke="#ff0000" stroke-width="0.25">Average:7195.55</text>
<text x="257.9" y="36" textLength="27.2" lengthAdjust="spacingAndGlyphs" stroke="#ff0000" stroke-width="0.25">Upper</text>
<text x="289.6" y="36" textLength="91.3" lengthAdjust="spacingAndGlyphs" stroke="#ff0000" stroke-width="0.25">Band:7245.685716</text>
<text x="385.3" y="36" textLength="27.3" lengthAdjust="spacingAndGlyphs" stroke="#ff0000" stroke-width="0.25">Lower</text>
<text x="417" y="36" textLength="90.8" lengthAdjust="spacingAndGlyphs" stroke="#ff0000" stroke-width="0.25">Band:7145.414284</text>
</g>
<g fill="#000">
<text x="28" y="51" textLength="9.2" lengthAdjust="spacingAndGlyphs" stroke="#000" stroke-width="0.25">©</text>
<text x="41" y="51" textLength="103" lengthAdjust="spacingAndGlyphs" stroke="#000" stroke-width="0.25">www.tradesignal.com</text>
</g>
<g fill="none" stroke="#808080" stroke-width="1"><polyline points="28,433.5 33.5,443.5 39,433.5"/><polyline points="28,443.5 33.5,433.5 39,443.5"/></g>
<g fill="#808080">
<text x="42" y="443" textLength="23.3" lengthAdjust="spacingAndGlyphs" stroke="#808080" stroke-width="0.25">MOM</text>
<text x="69" y="443" textLength="33.7" lengthAdjust="spacingAndGlyphs" stroke="#808080" stroke-width="0.25">[Close,</text>
<text x="106.8" y="443" textLength="39.2" lengthAdjust="spacingAndGlyphs" stroke="#808080" stroke-width="0.25">12]:31.5</text>
</g>
<g fill="none" stroke="#ff0000" stroke-width="1"><polyline points="28,574 33.5,584 39,574"/><polyline points="28,584 33.5,574 39,584"/></g>
<g fill="#ff0000">
<text x="42.4" y="584" textLength="27.6" lengthAdjust="spacingAndGlyphs" stroke="#ff0000" stroke-width="0.25">MACD</text>
<text x="74" y="584" textLength="32.3" lengthAdjust="spacingAndGlyphs" stroke="#ff0000" stroke-width="0.25">[Close,</text>
<text x="112.2" y="584" textLength="12.8" lengthAdjust="spacingAndGlyphs" stroke="#ff0000" stroke-width="0.25">12,</text>
<text x="129.8" y="584" textLength="14.0" lengthAdjust="spacingAndGlyphs" stroke="#ff0000" stroke-width="0.25">26,</text>
<text x="147.6" y="584" textLength="54.4" lengthAdjust="spacingAndGlyphs" stroke="#ff0000" stroke-width="0.25">9]:5.38698</text>
</g>
<g fill="#000080">
<text x="206.4" y="584" textLength="76.9" lengthAdjust="spacingAndGlyphs" stroke="#000080" stroke-width="0.25">Trigger:4.22762</text>
</g>
</svg></body></html>
